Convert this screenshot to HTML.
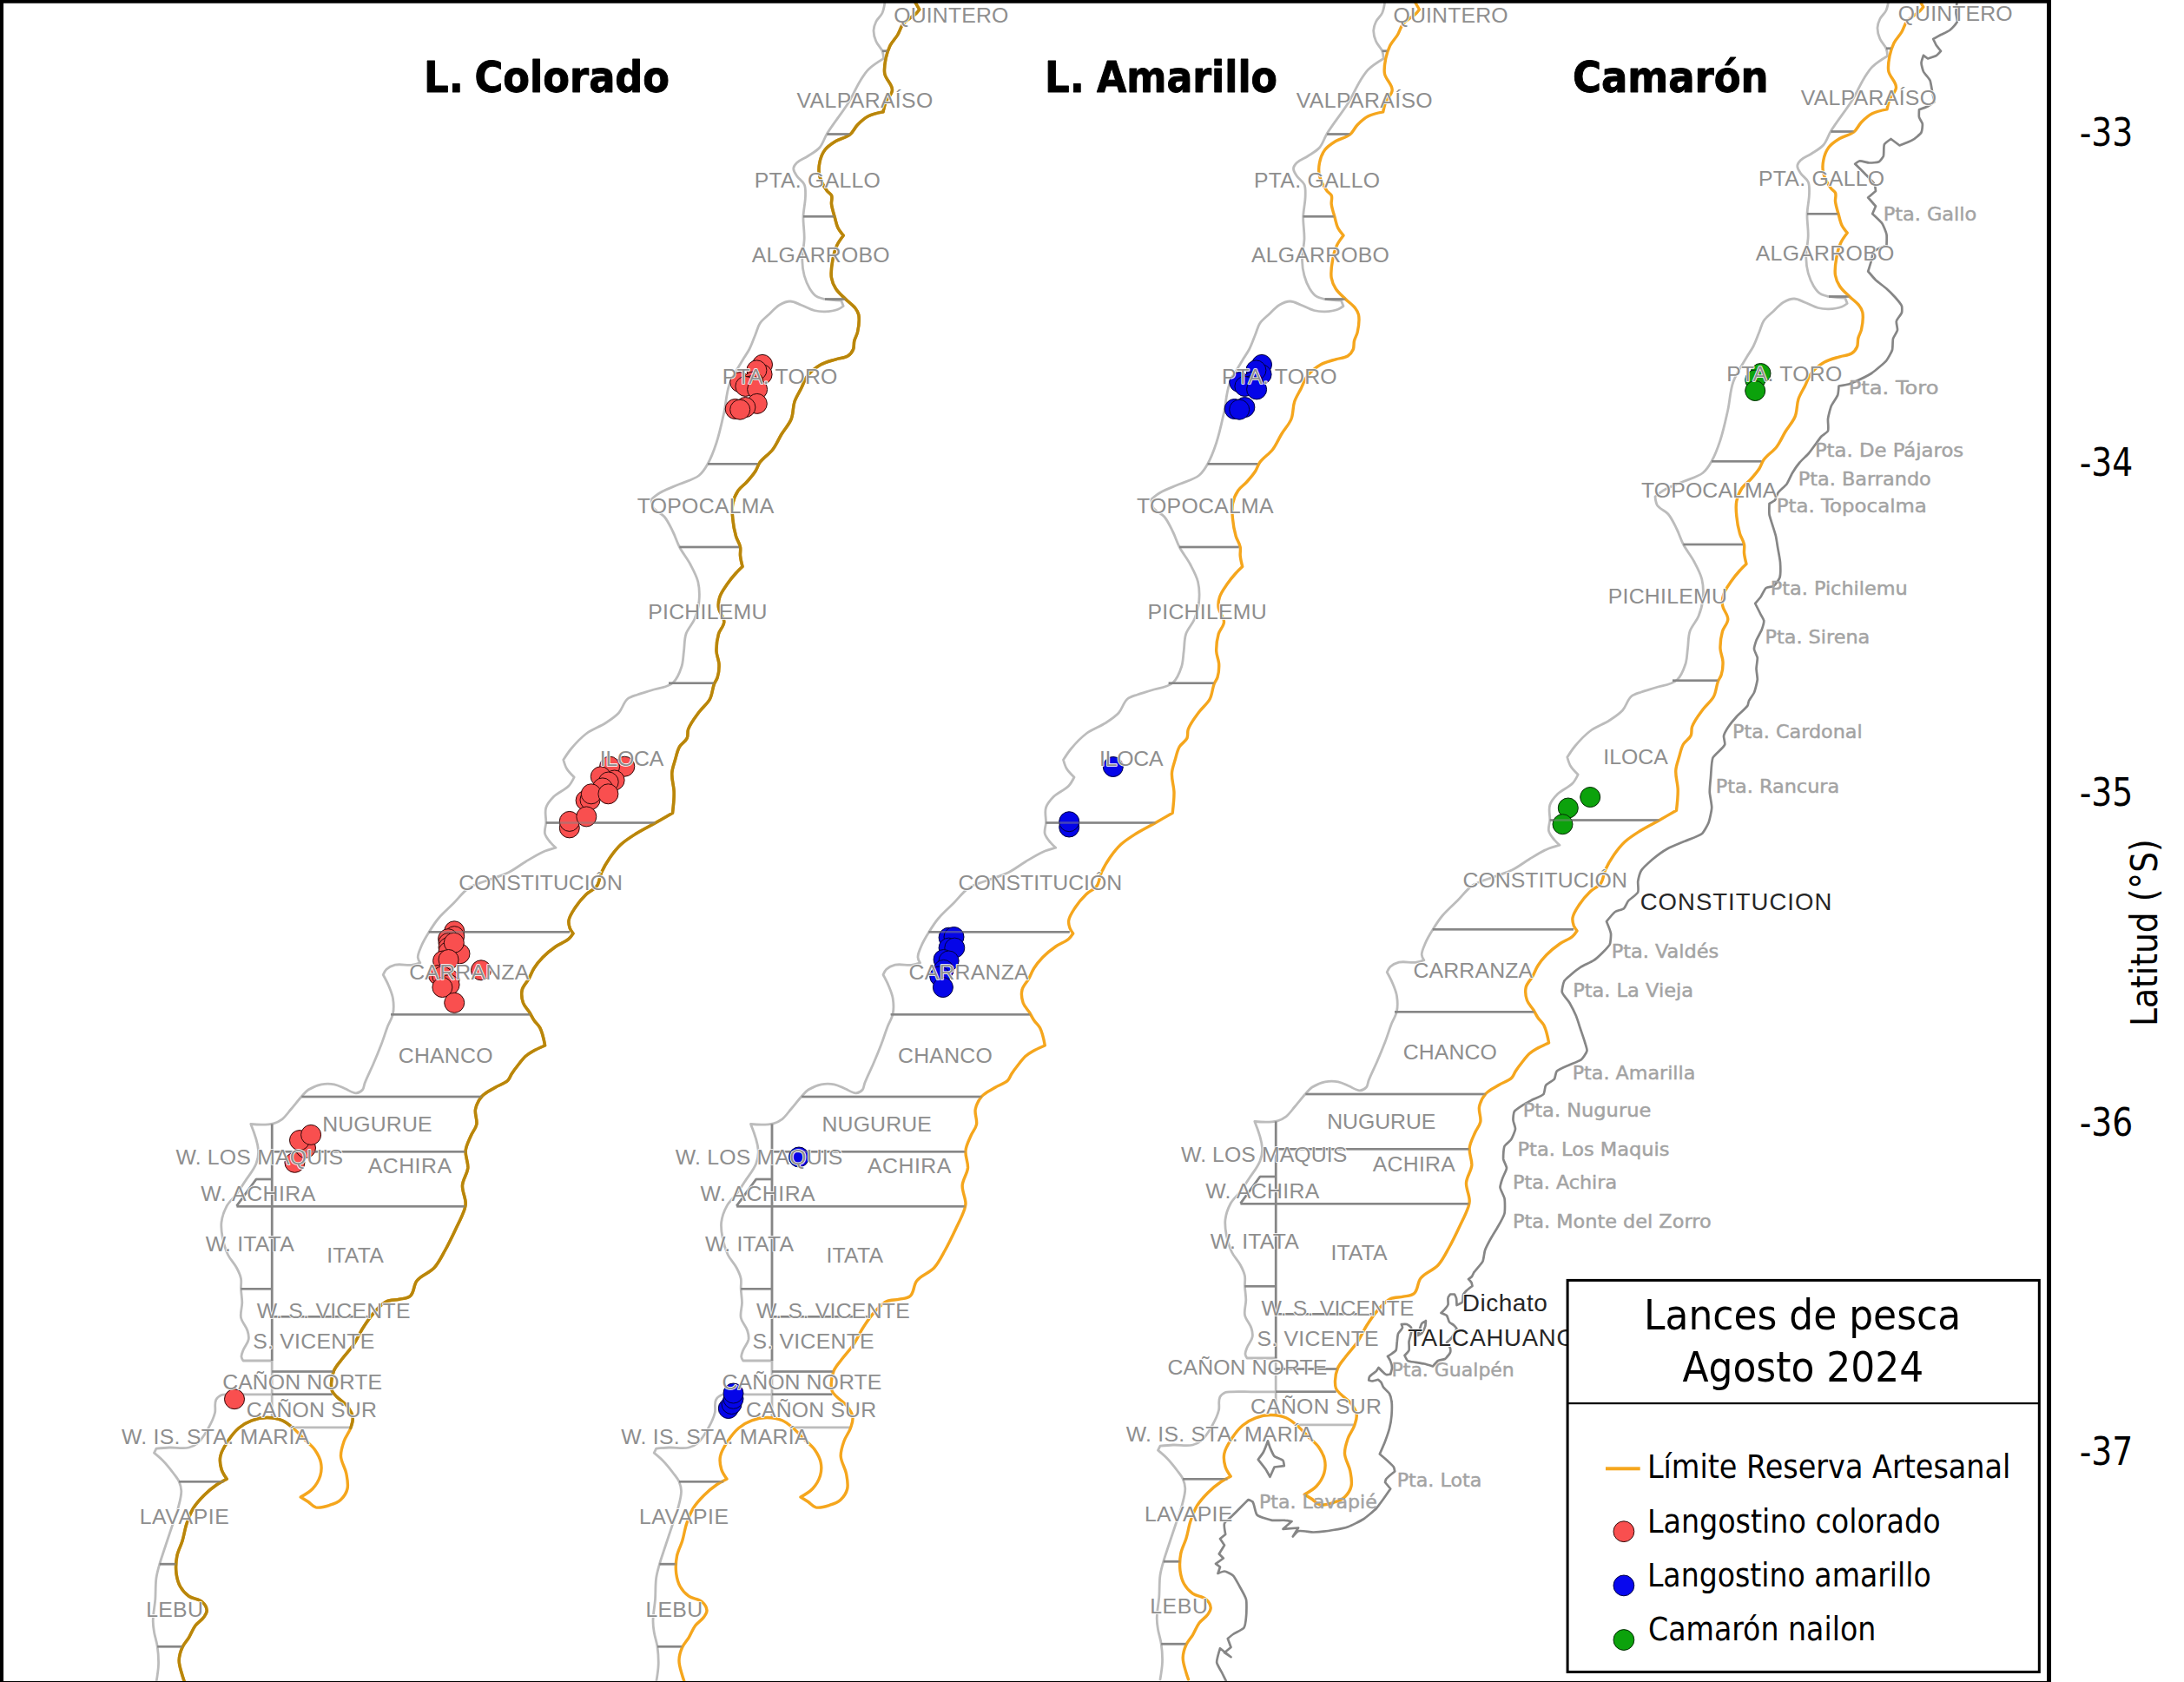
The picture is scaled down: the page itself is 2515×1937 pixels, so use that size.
<!DOCTYPE html>
<html lang="es"><head><meta charset="utf-8"><title>Lances de pesca Agosto 2024</title>
<style>html,body{margin:0;padding:0;background:#fff}svg{display:block}.ln{fill:none;stroke-linejoin:round;stroke-linecap:round}.lab{font-family:"Liberation Sans",sans-serif;font-size:24.8px;fill:#8e8e8e;stroke:#fff;stroke-width:1.6px;paint-order:stroke;stroke-linejoin:round}.plc{font-family:"DejaVu Sans",sans-serif;font-size:22px;fill:#a3a3a3;stroke:#a3a3a3;stroke-width:0.45px;stroke-linejoin:round}.city{font-family:"Liberation Sans",sans-serif;fill:#262626;stroke:#fff;stroke-width:2px;paint-order:stroke;stroke-linejoin:round}.tah{font-family:"DejaVu Sans Condensed","DejaVu Sans",sans-serif;fill:#000}.ttl{font-family:"DejaVu Sans Condensed","DejaVu Sans",sans-serif;font-weight:bold;font-size:49.5px;fill:#000;stroke:#000;stroke-width:0.9px;stroke-linejoin:round}</style></head><body>
<svg width="2515" height="1937" viewBox="0 0 2515 1937">
<rect width="2515" height="1937" fill="#fff"/>
<g id="p1">
<g class="ln">
<path d="M1053.8 2.5C1053.8 2.5 1058.8 11.0 1058.8 11.0C1058.8 11.0 1056.4 14.1 1055.0 15.5C1050.5 19.9 1044.0 22.6 1040.0 27.5C1037.1 31.1 1036.1 36.0 1033.8 40.0C1031.2 44.3 1027.3 48.0 1025.0 52.5C1022.7 57.2 1021.0 62.4 1020.0 67.5C1018.9 73.2 1017.7 79.3 1018.8 85.0C1020.0 91.7 1027.7 96.9 1027.5 103.8C1027.3 108.9 1021.9 112.7 1020.0 117.5C1018.6 121.1 1017.0 128.8 1017.0 128.8C1017.0 128.8 1005.2 131.0 1000.0 133.8C995.3 136.2 991.2 140.0 987.5 143.8C984.2 147.1 982.4 152.1 978.8 155.0C974.1 158.7 967.5 159.4 962.5 162.5C958.0 165.3 953.2 168.3 950.0 172.5C946.8 176.8 944.8 182.2 943.8 187.5C942.8 192.4 942.6 197.7 943.8 202.5C945.2 208.8 948.7 214.8 952.5 220.0C953.9 221.9 956.6 222.8 957.5 225.0C958.8 228.0 957.1 231.7 957.5 235.0C958.1 240.1 959.9 245.1 961.2 250.0C962.4 254.2 963.1 258.6 965.0 262.5C966.6 265.7 971.2 271.2 971.2 271.2C971.2 271.2 965.6 278.5 963.8 282.5C961.2 288.0 959.8 294.1 958.8 300.0C957.6 306.5 956.5 313.5 957.5 320.0C958.2 324.4 960.1 328.8 962.5 332.5C965.4 337.1 969.9 340.7 973.8 344.5C977.3 348.1 982.0 350.9 985.0 355.0C986.7 357.2 988.2 359.8 988.8 362.5C990.1 369.0 988.9 376.0 987.5 382.5C986.8 385.9 984.6 389.1 983.8 392.5C983.0 395.7 983.8 399.4 982.5 402.5C981.2 405.5 979.0 408.3 976.2 410.0C972.3 412.5 967.0 412.3 962.5 413.8C956.7 415.6 950.3 417.0 945.0 420.0C939.4 423.2 934.0 427.4 930.0 432.5C926.6 436.8 925.0 442.6 922.5 447.5C920.0 452.4 916.8 457.3 915.0 462.5C912.9 468.9 913.7 476.3 911.2 482.5C908.7 488.9 903.6 494.1 900.0 500.0C896.6 505.7 894.0 512.2 890.0 517.5C885.8 523.1 879.1 526.8 875.0 532.5C872.8 535.5 872.0 539.4 870.0 542.5C867.2 546.9 863.5 551.1 860.0 555.0C856.9 558.5 852.6 561.1 850.0 565.0C847.0 569.5 844.8 574.7 843.8 580.0C842.6 585.7 843.2 591.7 843.8 597.5C844.4 604.2 845.6 611.1 847.5 617.5C848.7 621.8 851.7 625.6 852.5 630.0C853.1 633.2 852.2 636.7 852.5 640.0C852.9 644.2 855.0 652.5 855.0 652.5C855.0 652.5 849.8 657.4 847.5 660.0C844.0 663.9 840.5 668.1 837.5 672.5C834.3 677.2 830.5 682.0 828.8 687.5C827.5 691.4 826.9 695.9 827.5 700.0C828.3 705.7 833.9 710.5 833.8 716.2C833.6 721.2 828.9 725.2 827.5 730.0C825.7 736.4 824.8 743.4 825.0 750.0C825.2 755.0 827.8 760.0 828.0 765.0C828.2 770.0 827.7 775.2 826.2 780.0C825.5 782.7 823.5 784.9 822.5 787.5C820.3 793.1 820.3 799.7 817.5 805.0C814.5 810.7 808.8 814.8 805.0 820.0C800.4 826.3 795.1 832.7 792.5 840.0C791.4 843.1 792.6 847.0 791.2 850.0C789.5 854.0 784.7 856.2 782.5 860.0C779.9 864.5 779.0 870.0 777.5 875.0C776.1 879.9 774.1 884.9 773.8 890.0C773.2 897.5 776.1 905.0 776.2 912.5C776.4 920.4 774.5 936.2 774.5 936.2C774.5 936.2 761.5 943.8 755.0 947.5C747.6 951.7 739.7 955.5 732.5 960.0C726.5 963.8 720.2 967.7 715.0 972.5C710.3 976.9 706.2 982.2 702.5 987.5C698.7 993.0 695.2 998.9 692.5 1005.0C690.4 1009.8 690.5 1015.7 687.5 1020.0C684.5 1024.3 678.8 1026.3 675.0 1030.0C670.4 1034.5 666.0 1039.6 662.5 1045.0C659.5 1049.6 655.9 1054.5 655.0 1060.0C654.5 1062.9 655.3 1066.0 656.2 1068.8C657.1 1071.0 660.0 1075.0 660.0 1075.0C660.0 1075.0 657.0 1079.5 655.0 1081.2C650.7 1085.0 644.7 1086.7 640.0 1090.0C634.7 1093.7 629.5 1097.9 625.0 1102.5C621.3 1106.3 617.8 1110.6 615.0 1115.0C612.5 1118.9 611.0 1123.5 608.8 1127.5C606.4 1131.7 602.3 1135.3 601.2 1140.0C600.1 1144.8 600.9 1150.3 602.5 1155.0C604.0 1159.2 607.7 1162.5 610.0 1166.2C611.7 1169.1 613.1 1172.2 615.0 1175.0C617.0 1178.0 620.2 1180.4 621.8 1183.6C625.0 1189.8 627.6 1204.0 627.6 1204.0C627.6 1204.0 617.6 1208.3 613.0 1211.0C610.2 1212.6 607.4 1214.3 605.0 1216.5C602.0 1219.3 599.5 1222.8 597.0 1226.0C594.2 1229.5 591.4 1233.2 589.0 1237.0C587.6 1239.2 586.9 1242.1 585.0 1244.0C581.0 1248.0 574.8 1249.5 570.0 1252.5C564.9 1255.6 558.9 1258.0 555.0 1262.5C551.3 1266.6 548.6 1272.1 547.5 1277.5C546.4 1283.2 549.9 1289.3 548.8 1295.0C547.9 1299.5 544.3 1303.3 542.5 1307.5C540.1 1313.1 536.9 1318.9 536.2 1325.0C535.5 1331.6 539.3 1338.4 538.8 1345.0C538.1 1351.9 532.9 1358.1 532.5 1365.0C532.0 1372.1 536.3 1379.1 536.2 1386.2C536.2 1388.4 535.6 1390.5 535.0 1392.5C532.5 1400.2 528.5 1407.7 525.0 1415.0C521.1 1423.3 517.0 1432.0 512.5 1440.0C508.7 1446.8 505.3 1454.3 500.0 1460.0C494.4 1466.1 485.1 1468.5 480.0 1475.0C476.1 1479.9 477.2 1488.3 472.5 1492.5C469.3 1495.4 464.2 1495.3 460.0 1496.2C455.1 1497.4 449.5 1496.6 445.0 1498.8C439.0 1501.7 434.5 1507.5 430.0 1512.5C425.3 1517.8 421.3 1524.0 417.5 1530.0C413.9 1535.7 411.3 1542.4 407.5 1548.0C403.4 1554.1 397.9 1559.6 393.5 1565.5C390.4 1569.7 386.6 1573.7 384.5 1578.5C382.6 1583.0 381.7 1588.1 381.5 1593.0C381.4 1596.0 381.4 1599.2 382.5 1602.0C383.5 1604.4 385.7 1606.3 387.5 1608.2C391.3 1612.3 396.6 1615.1 400.0 1619.5C402.8 1623.2 405.6 1627.4 406.2 1632.0C406.8 1636.2 405.1 1640.5 403.8 1644.5C402.0 1649.7 398.1 1654.3 396.2 1659.5C394.3 1665.1 392.2 1671.1 392.5 1677.0C392.8 1683.9 397.5 1690.2 398.8 1697.0C399.8 1702.7 401.3 1708.9 400.0 1714.5C398.9 1719.2 396.0 1723.7 392.5 1727.0C389.1 1730.1 384.4 1731.9 380.0 1733.2C374.8 1734.9 369.0 1737.0 363.8 1735.8C360.3 1734.9 357.9 1731.5 355.0 1729.5C352.2 1727.6 346.2 1724.0 346.2 1724.0C346.2 1724.0 356.3 1718.5 360.0 1714.5C363.9 1710.3 367.1 1705.0 368.8 1699.5C370.2 1694.7 370.5 1689.4 369.5 1684.5C368.5 1679.1 365.6 1674.0 362.5 1669.5C359.2 1664.7 354.1 1661.1 350.0 1657.0C345.9 1652.9 342.0 1648.2 337.5 1644.5C333.6 1641.3 329.6 1637.7 325.0 1635.8C319.6 1633.5 313.4 1632.5 307.5 1632.5C301.6 1632.5 295.5 1633.7 290.0 1635.8C284.6 1637.7 279.4 1640.8 275.0 1644.5C270.1 1648.7 266.0 1654.1 262.5 1659.5C259.0 1664.9 255.0 1670.7 253.8 1677.0C252.8 1681.9 253.6 1687.2 255.0 1692.0C256.2 1696.1 261.2 1703.2 261.2 1703.2C261.2 1703.2 253.5 1707.1 250.0 1709.5C244.7 1713.1 239.6 1717.4 235.0 1722.0C230.4 1726.6 225.9 1731.5 222.5 1737.0C219.2 1742.4 217.0 1748.5 215.0 1754.5C212.8 1760.9 212.0 1768.0 210.0 1774.5C208.2 1780.4 204.9 1786.0 203.8 1792.0C202.5 1798.5 202.2 1805.4 203.0 1812.0C203.7 1817.1 205.0 1822.5 207.5 1827.0C209.9 1831.3 213.5 1835.4 217.5 1838.2C221.9 1841.4 228.5 1841.0 232.5 1844.5C235.4 1847.0 238.0 1850.7 238.2 1854.5C238.4 1857.2 236.5 1859.8 235.0 1862.0C232.4 1865.9 227.8 1868.3 225.0 1872.0C221.9 1876.1 220.2 1881.3 217.5 1885.8C215.2 1889.6 211.8 1892.9 210.0 1897.0C207.9 1901.7 206.3 1906.9 206.2 1912.0C206.1 1917.9 208.4 1923.8 210.0 1929.5C210.7 1932.0 212.5 1937.0 212.5 1937.0" stroke="#f5a61d" stroke-width="3.4" />
</g>
<g class="ln">
<path d="M1018.8 3.8C1018.8 3.8 1017.6 11.5 1016.0 15.0C1014.3 18.7 1010.5 21.3 1008.8 25.0C1007.3 28.1 1006.1 31.6 1006.0 35.0C1005.9 39.2 1007.1 43.6 1008.8 47.5C1010.4 51.6 1014.4 54.6 1016.0 58.8C1017.1 61.5 1017.5 67.5 1017.5 67.5C1017.5 67.5 1005.0 75.0 1000.0 80.0C996.4 83.6 993.7 88.2 991.0 92.5C986.0 100.4 982.4 109.5 977.5 117.5C969.9 129.9 960.1 141.4 952.5 153.8C949.3 158.9 947.8 165.4 943.8 170.0C940.1 174.2 934.7 176.9 930.0 180.0C926.0 182.7 920.9 184.1 917.5 187.5C915.8 189.2 913.9 191.4 913.8 193.8C913.5 196.9 915.8 199.8 917.5 202.5C919.8 206.2 924.5 208.5 926.2 212.5C927.9 216.3 927.5 220.9 927.5 225.0C927.5 233.3 925.2 241.7 925.0 250.0C924.8 258.3 926.5 266.7 926.2 275.0C926.0 283.3 923.6 291.7 923.8 300.0C923.9 305.8 924.7 311.9 926.2 317.5C927.7 322.7 929.7 327.9 932.5 332.5C934.5 335.7 936.8 339.1 940.0 341.2C942.9 343.2 946.6 343.8 950.0 344.5C956.1 345.8 968.8 346.2 968.8 346.2C968.8 346.2 971.2 352.5 971.2 352.5C971.2 352.5 967.3 355.4 965.0 356.2C960.3 358.0 955.0 358.6 950.0 358.8C945.9 358.9 941.5 358.5 937.5 357.5C932.3 356.2 927.5 353.1 922.5 351.2C918.4 349.7 914.4 347.0 910.0 347.0C905.6 347.0 901.3 349.0 897.5 351.2C892.7 354.1 889.0 358.7 885.0 362.5C881.6 365.7 877.6 368.6 875.0 372.5C872.6 376.2 871.7 380.9 870.0 385.0C867.7 390.6 865.8 396.6 863.0 402.0C860.7 406.5 857.5 410.6 855.0 415.0C849.8 423.9 843.5 432.8 840.0 442.5C836.3 452.8 836.1 464.3 833.8 475.0C831.2 486.6 828.7 498.7 825.0 510.0C822.3 518.2 819.3 526.7 815.0 534.2C812.3 539.0 809.3 544.1 805.0 547.5C798.6 552.6 789.9 554.2 782.5 557.5C775.1 560.8 767.0 563.4 760.0 567.5C756.4 569.6 750.0 575.0 750.0 575.0C750.0 575.0 750.7 582.1 752.5 585.0C755.4 589.4 761.6 591.0 765.0 595.0C769.3 600.1 772.0 606.5 775.0 612.5C777.8 618.1 779.6 624.4 782.5 630.0C786.1 636.9 791.4 643.1 795.0 650.0C798.4 656.4 802.1 663.0 803.8 670.0C805.5 677.2 805.7 685.1 805.0 692.5C804.4 699.3 802.5 706.2 800.0 712.5C797.5 718.7 792.1 723.7 790.0 730.0C787.9 736.3 788.4 743.4 787.5 750.0C786.7 755.8 786.8 762.0 785.0 767.5C782.8 774.2 780.3 781.7 775.0 786.2C768.4 791.9 758.3 792.3 750.0 795.0C744.7 796.7 739.2 798.1 734.0 800.0C730.1 801.4 725.6 802.3 722.5 805.0C717.8 809.1 716.7 816.4 712.5 821.0C708.3 825.6 702.7 829.1 697.5 832.5C690.4 837.2 681.8 839.9 675.0 845.0C668.5 849.9 662.7 856.2 657.5 862.5C654.3 866.4 648.8 875.0 648.8 875.0C648.8 875.0 650.7 882.0 652.5 885.0C654.7 888.8 661.2 895.0 661.2 895.0C661.2 895.0 657.7 902.2 655.0 905.0C650.1 910.2 642.5 912.5 637.5 917.5C634.0 921.1 630.3 925.2 628.8 930.0C627.0 935.5 629.0 941.7 628.8 947.5C628.5 951.6 626.6 956.0 627.5 960.0C628.4 963.8 631.3 967.0 633.8 970.0C635.6 972.3 640.0 976.2 640.0 976.2C640.0 976.2 629.8 979.1 625.0 981.2C618.1 984.3 611.5 988.6 605.0 992.5C598.3 996.5 592.0 1001.6 585.0 1005.0C578.7 1008.1 571.6 1010.0 565.0 1012.5C556.7 1015.7 547.4 1017.6 540.0 1022.5C533.2 1027.0 528.3 1034.2 522.5 1040.0C516.7 1045.8 510.2 1051.2 505.0 1057.5C500.8 1062.5 497.2 1068.2 493.8 1073.8C490.6 1078.9 487.3 1084.4 485.0 1090.0C483.4 1094.0 481.1 1098.2 481.2 1102.5C481.3 1104.7 483.8 1108.8 483.8 1108.8C483.8 1108.8 478.0 1110.8 475.0 1111.2C468.5 1112.2 461.4 1109.7 455.0 1111.2C451.4 1112.1 447.7 1113.7 445.0 1116.2C443.2 1117.9 441.2 1122.5 441.2 1122.5C441.2 1122.5 445.7 1130.7 447.5 1135.0C449.5 1139.8 451.7 1144.8 452.5 1150.0C453.4 1155.7 453.6 1161.8 452.5 1167.5C451.4 1172.8 448.2 1177.5 446.2 1182.5C443.7 1189.2 441.6 1196.3 439.0 1203.0C436.2 1210.3 433.1 1217.8 430.0 1225.0C426.8 1232.5 422.9 1239.9 420.0 1247.5C419.1 1249.9 419.2 1253.0 417.5 1255.0C415.7 1257.1 412.8 1258.6 410.0 1258.8C405.6 1258.9 401.6 1255.4 397.5 1253.8C393.4 1252.1 389.4 1249.6 385.0 1248.8C380.1 1247.8 374.9 1247.8 370.0 1248.8C364.7 1249.8 359.5 1252.0 355.0 1255.0C352.1 1256.9 349.9 1259.9 347.5 1262.5C343.2 1267.3 339.2 1272.6 335.0 1277.5C331.8 1281.3 328.9 1285.7 325.0 1288.8C322.1 1291.0 318.6 1292.9 315.0 1293.8C306.6 1295.9 288.8 1294.5 288.8 1294.5C288.8 1294.5 296.9 1314.5 297.5 1325.0C297.8 1330.0 296.8 1335.3 295.0 1340.0C292.2 1347.3 286.7 1353.5 282.5 1360.0C279.3 1365.0 276.0 1370.2 272.5 1375.0C269.0 1379.7 264.1 1383.6 261.2 1388.8C258.1 1394.5 255.8 1401.0 255.0 1407.5C254.3 1413.2 255.2 1419.3 256.2 1425.0C257.5 1431.8 259.5 1438.8 262.5 1445.0C265.1 1450.4 269.7 1454.7 272.5 1460.0C274.6 1463.9 276.7 1468.1 277.5 1472.5C278.2 1476.3 277.3 1480.4 277.5 1484.2C277.7 1489.5 278.7 1494.8 278.8 1500.0C278.8 1505.8 276.4 1511.8 277.5 1517.5C278.6 1522.9 283.4 1527.2 285.0 1532.5C286.0 1535.7 286.8 1539.2 286.2 1542.5C285.5 1547.0 281.6 1550.7 280.0 1555.0C279.1 1557.4 277.8 1559.9 278.0 1562.5C278.1 1564.1 280.0 1567.0 280.0 1567.0C280.0 1567.0 313.2 1567.0 313.2 1567.0C313.2 1567.0 313.2 1632.5 313.2 1632.5" stroke="#bcbcbc" stroke-width="2.8" />
<path d="M313.2 1605.8C313.2 1605.8 294.3 1605.8 285.0 1605.8C277.4 1605.8 269.6 1605.3 262.0 1605.8C259.7 1605.9 257.1 1605.6 255.0 1606.5C252.5 1607.6 250.0 1609.5 248.8 1612.0C246.5 1616.4 248.7 1622.2 247.5 1627.0C246.0 1633.1 243.1 1639.0 240.0 1644.5C236.5 1650.7 232.9 1657.4 227.5 1662.0C224.7 1664.4 221.1 1666.2 217.5 1667.0C210.3 1668.7 202.4 1666.7 195.0 1667.0C190.0 1667.2 180.0 1668.2 180.0 1668.2C180.0 1668.2 177.5 1673.2 177.5 1673.2C177.5 1673.2 184.4 1678.9 187.5 1682.0C192.0 1686.6 196.1 1691.8 200.0 1697.0C202.2 1699.9 204.8 1702.9 206.2 1706.2C207.7 1709.6 208.7 1713.4 208.8 1717.0C208.9 1723.7 206.7 1730.5 205.0 1737.0C203.0 1744.6 200.0 1752.1 197.5 1759.5C195.0 1766.9 192.4 1774.6 190.0 1782.0C187.9 1788.3 185.6 1794.8 183.8 1801.2C182.3 1806.4 180.8 1811.7 180.0 1817.0C178.8 1825.2 179.4 1833.8 178.8 1842.0C178.1 1850.3 176.2 1858.7 176.2 1867.0C176.2 1871.1 176.8 1875.4 177.5 1879.5C178.4 1885.1 180.5 1890.6 181.2 1896.2C182.2 1903.0 182.7 1910.1 182.5 1917.0C182.3 1923.6 180.0 1937.0 180.0 1937.0" stroke="#bcbcbc" stroke-width="2.8" />
<polyline points="337.5,1643.8 403.8,1643.8" stroke="#bcbcbc" stroke-width="2.8" />
<polyline points="1016.0,58.8 1022.0,58.8" stroke="#868686" stroke-width="2.6" stroke-linecap="butt"/>
<polyline points="952.5,154.5 978.8,154.5" stroke="#868686" stroke-width="2.6" stroke-linecap="butt"/>
<polyline points="925.0,249.2 961.0,249.2" stroke="#868686" stroke-width="2.6" stroke-linecap="butt"/>
<polyline points="950.0,344.5 973.8,344.5" stroke="#868686" stroke-width="2.6" stroke-linecap="butt"/>
<polyline points="815.0,534.2 872.5,534.2" stroke="#868686" stroke-width="2.6" stroke-linecap="butt"/>
<polyline points="782.5,630.0 851.0,630.0" stroke="#868686" stroke-width="2.6" stroke-linecap="butt"/>
<polyline points="770.0,786.8 822.5,786.8" stroke="#868686" stroke-width="2.6" stroke-linecap="butt"/>
<polyline points="628.8,947.5 755.0,947.5" stroke="#868686" stroke-width="2.6" stroke-linecap="butt"/>
<polyline points="493.8,1073.2 656.0,1073.2" stroke="#868686" stroke-width="2.6" stroke-linecap="butt"/>
<polyline points="450.0,1168.2 611.0,1168.2" stroke="#868686" stroke-width="2.6" stroke-linecap="butt"/>
<polyline points="347.5,1263.0 555.0,1263.0" stroke="#868686" stroke-width="2.6" stroke-linecap="butt"/>
<polyline points="313.2,1326.2 536.0,1326.2" stroke="#868686" stroke-width="2.6" stroke-linecap="butt"/>
<polyline points="272.5,1389.2 536.0,1389.2" stroke="#868686" stroke-width="2.6" stroke-linecap="butt"/>
<polyline points="277.5,1484.2 313.2,1484.2" stroke="#868686" stroke-width="2.6" stroke-linecap="butt"/>
<polyline points="313.2,1516.2 425.0,1516.2" stroke="#868686" stroke-width="2.6" stroke-linecap="butt"/>
<polyline points="313.2,1579.5 384.0,1579.5" stroke="#868686" stroke-width="2.6" stroke-linecap="butt"/>
<polyline points="313.2,1605.8 382.5,1605.8" stroke="#868686" stroke-width="2.6" stroke-linecap="butt"/>
<polyline points="206.2,1706.2 257.5,1706.2" stroke="#868686" stroke-width="2.6" stroke-linecap="butt"/>
<polyline points="183.8,1801.2 203.0,1801.2" stroke="#868686" stroke-width="2.6" stroke-linecap="butt"/>
<polyline points="181.2,1896.2 210.0,1896.2" stroke="#868686" stroke-width="2.6" stroke-linecap="butt"/>
<polyline points="313.2,1294.5 313.2,1567.0" stroke="#868686" stroke-width="2.6" stroke-linecap="butt"/>
<polyline points="313.2,1358.0 295.0,1358.0 272.5,1388.8" stroke="#868686" stroke-width="2.6" stroke-linecap="butt"/>
</g>
<g class="ln">
<path d="M1053.8 2.5C1053.8 2.5 1058.8 11.0 1058.8 11.0C1058.8 11.0 1056.4 14.1 1055.0 15.5C1050.5 19.9 1044.0 22.6 1040.0 27.5C1037.1 31.1 1036.1 36.0 1033.8 40.0C1031.2 44.3 1027.3 48.0 1025.0 52.5C1022.7 57.2 1021.0 62.4 1020.0 67.5C1018.9 73.2 1017.7 79.3 1018.8 85.0C1020.0 91.7 1027.7 96.9 1027.5 103.8C1027.3 108.9 1021.9 112.7 1020.0 117.5C1018.6 121.1 1017.0 128.8 1017.0 128.8C1017.0 128.8 1005.2 131.0 1000.0 133.8C995.3 136.2 991.2 140.0 987.5 143.8C984.2 147.1 982.4 152.1 978.8 155.0C974.1 158.7 967.5 159.4 962.5 162.5C958.0 165.3 953.2 168.3 950.0 172.5C946.8 176.8 944.8 182.2 943.8 187.5C942.8 192.4 942.6 197.7 943.8 202.5C945.2 208.8 948.7 214.8 952.5 220.0C953.9 221.9 956.6 222.8 957.5 225.0C958.8 228.0 957.1 231.7 957.5 235.0C958.1 240.1 959.9 245.1 961.2 250.0C962.4 254.2 963.1 258.6 965.0 262.5C966.6 265.7 971.2 271.2 971.2 271.2C971.2 271.2 965.6 278.5 963.8 282.5C961.2 288.0 959.8 294.1 958.8 300.0C957.6 306.5 956.5 313.5 957.5 320.0C958.2 324.4 960.1 328.8 962.5 332.5C965.4 337.1 969.9 340.7 973.8 344.5C977.3 348.1 982.0 350.9 985.0 355.0C986.7 357.2 988.2 359.8 988.8 362.5C990.1 369.0 988.9 376.0 987.5 382.5C986.8 385.9 984.6 389.1 983.8 392.5C983.0 395.7 983.8 399.4 982.5 402.5C981.2 405.5 979.0 408.3 976.2 410.0C972.3 412.5 967.0 412.3 962.5 413.8C956.7 415.6 950.3 417.0 945.0 420.0C939.4 423.2 934.0 427.4 930.0 432.5C926.6 436.8 925.0 442.6 922.5 447.5C920.0 452.4 916.8 457.3 915.0 462.5C912.9 468.9 913.7 476.3 911.2 482.5C908.7 488.9 903.6 494.1 900.0 500.0C896.6 505.7 894.0 512.2 890.0 517.5C885.8 523.1 879.1 526.8 875.0 532.5C872.8 535.5 872.0 539.4 870.0 542.5C867.2 546.9 863.5 551.1 860.0 555.0C856.9 558.5 852.6 561.1 850.0 565.0C847.0 569.5 844.8 574.7 843.8 580.0C842.6 585.7 843.2 591.7 843.8 597.5C844.4 604.2 845.6 611.1 847.5 617.5C848.7 621.8 851.7 625.6 852.5 630.0C853.1 633.2 852.2 636.7 852.5 640.0C852.9 644.2 855.0 652.5 855.0 652.5C855.0 652.5 849.8 657.4 847.5 660.0C844.0 663.9 840.5 668.1 837.5 672.5C834.3 677.2 830.5 682.0 828.8 687.5C827.5 691.4 826.9 695.9 827.5 700.0C828.3 705.7 833.9 710.5 833.8 716.2C833.6 721.2 828.9 725.2 827.5 730.0C825.7 736.4 824.8 743.4 825.0 750.0C825.2 755.0 827.8 760.0 828.0 765.0C828.2 770.0 827.7 775.2 826.2 780.0C825.5 782.7 823.5 784.9 822.5 787.5C820.3 793.1 820.3 799.7 817.5 805.0C814.5 810.7 808.8 814.8 805.0 820.0C800.4 826.3 795.1 832.7 792.5 840.0C791.4 843.1 792.6 847.0 791.2 850.0C789.5 854.0 784.7 856.2 782.5 860.0C779.9 864.5 779.0 870.0 777.5 875.0C776.1 879.9 774.1 884.9 773.8 890.0C773.2 897.5 776.1 905.0 776.2 912.5C776.4 920.4 774.5 936.2 774.5 936.2C774.5 936.2 761.5 943.8 755.0 947.5C747.6 951.7 739.7 955.5 732.5 960.0C726.5 963.8 720.2 967.7 715.0 972.5C710.3 976.9 706.2 982.2 702.5 987.5C698.7 993.0 695.2 998.9 692.5 1005.0C690.4 1009.8 690.5 1015.7 687.5 1020.0C684.5 1024.3 678.8 1026.3 675.0 1030.0C670.4 1034.5 666.0 1039.6 662.5 1045.0C659.5 1049.6 655.9 1054.5 655.0 1060.0C654.5 1062.9 655.3 1066.0 656.2 1068.8C657.1 1071.0 660.0 1075.0 660.0 1075.0C660.0 1075.0 657.0 1079.5 655.0 1081.2C650.7 1085.0 644.7 1086.7 640.0 1090.0C634.7 1093.7 629.5 1097.9 625.0 1102.5C621.3 1106.3 617.8 1110.6 615.0 1115.0C612.5 1118.9 611.0 1123.5 608.8 1127.5C606.4 1131.7 602.3 1135.3 601.2 1140.0C600.1 1144.8 600.9 1150.3 602.5 1155.0C604.0 1159.2 607.7 1162.5 610.0 1166.2C611.7 1169.1 613.1 1172.2 615.0 1175.0C617.0 1178.0 620.2 1180.4 621.8 1183.6C625.0 1189.8 627.6 1204.0 627.6 1204.0C627.6 1204.0 617.6 1208.3 613.0 1211.0C610.2 1212.6 607.4 1214.3 605.0 1216.5C602.0 1219.3 599.5 1222.8 597.0 1226.0C594.2 1229.5 591.4 1233.2 589.0 1237.0C587.6 1239.2 586.9 1242.1 585.0 1244.0C581.0 1248.0 574.8 1249.5 570.0 1252.5C564.9 1255.6 558.9 1258.0 555.0 1262.5C551.3 1266.6 548.6 1272.1 547.5 1277.5C546.4 1283.2 549.9 1289.3 548.8 1295.0C547.9 1299.5 544.3 1303.3 542.5 1307.5C540.1 1313.1 536.9 1318.9 536.2 1325.0C535.5 1331.6 539.3 1338.4 538.8 1345.0C538.1 1351.9 532.9 1358.1 532.5 1365.0C532.0 1372.1 536.3 1379.1 536.2 1386.2C536.2 1388.4 535.6 1390.5 535.0 1392.5C532.5 1400.2 528.5 1407.7 525.0 1415.0C521.1 1423.3 517.0 1432.0 512.5 1440.0C508.7 1446.8 505.3 1454.3 500.0 1460.0C494.4 1466.1 485.1 1468.5 480.0 1475.0C476.1 1479.9 477.2 1488.3 472.5 1492.5C469.3 1495.4 464.2 1495.3 460.0 1496.2C455.1 1497.4 449.5 1496.6 445.0 1498.8C439.0 1501.7 434.5 1507.5 430.0 1512.5C425.3 1517.8 421.3 1524.0 417.5 1530.0C413.9 1535.7 411.3 1542.4 407.5 1548.0C403.4 1554.1 397.9 1559.6 393.5 1565.5C390.4 1569.7 386.6 1573.7 384.5 1578.5C382.6 1583.0 381.7 1588.1 381.5 1593.0C381.4 1596.0 381.4 1599.2 382.5 1602.0C383.5 1604.4 385.7 1606.3 387.5 1608.2C391.3 1612.3 396.6 1615.1 400.0 1619.5C402.8 1623.2 405.6 1627.4 406.2 1632.0C406.8 1636.2 403.8 1644.5 403.8 1644.5" stroke="#b8860b" stroke-width="3.5" />
<path d="M337.5 1644.5C337.5 1644.5 329.6 1637.7 325.0 1635.8C319.6 1633.5 313.4 1632.5 307.5 1632.5C301.6 1632.5 295.5 1633.7 290.0 1635.8C284.6 1637.7 279.4 1640.8 275.0 1644.5C270.1 1648.7 266.0 1654.1 262.5 1659.5C259.0 1664.9 255.0 1670.7 253.8 1677.0C252.8 1681.9 253.6 1687.2 255.0 1692.0C256.2 1696.1 261.2 1703.2 261.2 1703.2C261.2 1703.2 253.5 1707.1 250.0 1709.5C244.7 1713.1 239.6 1717.4 235.0 1722.0C230.4 1726.6 225.9 1731.5 222.5 1737.0C219.2 1742.4 217.0 1748.5 215.0 1754.5C212.8 1760.9 212.0 1768.0 210.0 1774.5C208.2 1780.4 204.9 1786.0 203.8 1792.0C202.5 1798.5 202.2 1805.4 203.0 1812.0C203.7 1817.1 205.0 1822.5 207.5 1827.0C209.9 1831.3 213.5 1835.4 217.5 1838.2C221.9 1841.4 228.5 1841.0 232.5 1844.5C235.4 1847.0 238.0 1850.7 238.2 1854.5C238.4 1857.2 236.5 1859.8 235.0 1862.0C232.4 1865.9 227.8 1868.3 225.0 1872.0C221.9 1876.1 220.2 1881.3 217.5 1885.8C215.2 1889.6 211.8 1892.9 210.0 1897.0C207.9 1901.7 206.3 1906.9 206.2 1912.0C206.1 1917.9 208.4 1923.8 210.0 1929.5C210.7 1932.0 212.5 1937.0 212.5 1937.0" stroke="#b8860b" stroke-width="3.5" />
</g>
</g>
<g id="p2">
<g class="ln">
<path d="M1594.5 3.8C1594.5 3.8 1593.3 11.5 1591.7 15.0C1590.0 18.7 1586.2 21.3 1584.5 25.0C1583.0 28.1 1581.8 31.6 1581.7 35.0C1581.6 39.2 1582.8 43.6 1584.5 47.5C1586.1 51.6 1590.1 54.6 1591.7 58.8C1592.8 61.5 1593.2 67.5 1593.2 67.5C1593.2 67.5 1580.7 75.0 1575.7 80.0C1572.1 83.6 1569.4 88.2 1566.7 92.5C1561.7 100.4 1558.1 109.5 1553.2 117.5C1545.6 129.9 1535.8 141.4 1528.2 153.8C1525.0 158.9 1523.5 165.4 1519.5 170.0C1515.8 174.2 1510.4 176.9 1505.7 180.0C1501.7 182.7 1496.6 184.1 1493.2 187.5C1491.5 189.2 1489.6 191.4 1489.5 193.8C1489.2 196.9 1491.5 199.8 1493.2 202.5C1495.5 206.2 1500.2 208.5 1502.0 212.5C1503.6 216.3 1503.2 220.9 1503.2 225.0C1503.2 233.3 1500.9 241.7 1500.7 250.0C1500.5 258.3 1502.2 266.7 1502.0 275.0C1501.7 283.3 1499.3 291.7 1499.5 300.0C1499.6 305.8 1500.4 311.9 1502.0 317.5C1503.4 322.7 1505.4 327.9 1508.2 332.5C1510.2 335.7 1512.5 339.1 1515.7 341.2C1518.6 343.2 1522.3 343.8 1525.7 344.5C1531.8 345.8 1544.5 346.2 1544.5 346.2C1544.5 346.2 1547.0 352.5 1547.0 352.5C1547.0 352.5 1543.0 355.4 1540.7 356.2C1536.0 358.0 1530.7 358.6 1525.7 358.8C1521.6 358.9 1517.2 358.5 1513.2 357.5C1508.0 356.2 1503.2 353.1 1498.2 351.2C1494.1 349.7 1490.1 347.0 1485.7 347.0C1481.3 347.0 1477.0 349.0 1473.2 351.2C1468.4 354.1 1464.7 358.7 1460.7 362.5C1457.3 365.7 1453.3 368.6 1450.7 372.5C1448.3 376.2 1447.4 380.9 1445.7 385.0C1443.4 390.6 1441.5 396.6 1438.7 402.0C1436.4 406.5 1433.2 410.6 1430.7 415.0C1425.5 423.9 1419.2 432.8 1415.7 442.5C1412.0 452.8 1411.8 464.3 1409.5 475.0C1406.9 486.6 1404.4 498.7 1400.7 510.0C1398.0 518.2 1395.0 526.7 1390.7 534.2C1388.0 539.0 1385.0 544.1 1380.7 547.5C1374.3 552.6 1365.6 554.2 1358.2 557.5C1350.8 560.8 1342.7 563.4 1335.7 567.5C1332.1 569.6 1325.7 575.0 1325.7 575.0C1325.7 575.0 1326.4 582.1 1328.2 585.0C1331.1 589.4 1337.3 591.0 1340.7 595.0C1345.0 600.1 1347.7 606.5 1350.7 612.5C1353.5 618.1 1355.3 624.4 1358.2 630.0C1361.8 636.9 1367.1 643.1 1370.7 650.0C1374.1 656.4 1377.8 663.0 1379.5 670.0C1381.2 677.2 1381.4 685.1 1380.7 692.5C1380.1 699.3 1378.2 706.2 1375.7 712.5C1373.2 718.7 1367.8 723.7 1365.7 730.0C1363.6 736.3 1364.1 743.4 1363.2 750.0C1362.4 755.8 1362.5 762.0 1360.7 767.5C1358.5 774.2 1356.0 781.7 1350.7 786.2C1344.1 791.9 1334.0 792.3 1325.7 795.0C1320.4 796.7 1314.9 798.1 1309.7 800.0C1305.8 801.4 1301.3 802.3 1298.2 805.0C1293.5 809.1 1292.4 816.4 1288.2 821.0C1284.0 825.6 1278.4 829.1 1273.2 832.5C1266.1 837.2 1257.5 839.9 1250.7 845.0C1244.2 849.9 1238.4 856.2 1233.2 862.5C1230.0 866.4 1224.5 875.0 1224.5 875.0C1224.5 875.0 1226.4 882.0 1228.2 885.0C1230.4 888.8 1237.0 895.0 1237.0 895.0C1237.0 895.0 1233.4 902.2 1230.7 905.0C1225.8 910.2 1218.2 912.5 1213.2 917.5C1209.7 921.1 1206.0 925.2 1204.5 930.0C1202.7 935.5 1204.7 941.7 1204.5 947.5C1204.2 951.6 1202.3 956.0 1203.2 960.0C1204.1 963.8 1207.0 967.0 1209.5 970.0C1211.3 972.3 1215.7 976.2 1215.7 976.2C1215.7 976.2 1205.5 979.1 1200.7 981.2C1193.8 984.3 1187.2 988.6 1180.7 992.5C1174.0 996.5 1167.7 1001.6 1160.7 1005.0C1154.4 1008.1 1147.3 1010.0 1140.7 1012.5C1132.4 1015.7 1123.1 1017.6 1115.7 1022.5C1108.9 1027.0 1104.0 1034.2 1098.2 1040.0C1092.4 1045.8 1085.9 1051.2 1080.7 1057.5C1076.5 1062.5 1072.9 1068.2 1069.5 1073.8C1066.3 1078.9 1063.0 1084.4 1060.7 1090.0C1059.1 1094.0 1056.8 1098.2 1057.0 1102.5C1057.0 1104.7 1059.5 1108.8 1059.5 1108.8C1059.5 1108.8 1053.7 1110.8 1050.7 1111.2C1044.2 1112.2 1037.1 1109.7 1030.7 1111.2C1027.1 1112.1 1023.4 1113.7 1020.7 1116.2C1018.9 1117.9 1017.0 1122.5 1017.0 1122.5C1017.0 1122.5 1021.4 1130.7 1023.2 1135.0C1025.2 1139.8 1027.4 1144.8 1028.2 1150.0C1029.1 1155.7 1029.3 1161.8 1028.2 1167.5C1027.1 1172.8 1023.9 1177.5 1022.0 1182.5C1019.4 1189.2 1017.3 1196.3 1014.7 1203.0C1011.9 1210.3 1008.8 1217.8 1005.7 1225.0C1002.5 1232.5 998.6 1239.9 995.7 1247.5C994.8 1249.9 994.9 1253.0 993.2 1255.0C991.4 1257.1 988.5 1258.6 985.7 1258.8C981.3 1258.9 977.3 1255.4 973.2 1253.8C969.1 1252.1 965.1 1249.6 960.7 1248.8C955.8 1247.8 950.6 1247.8 945.7 1248.8C940.4 1249.8 935.2 1252.0 930.7 1255.0C927.8 1256.9 925.6 1259.9 923.2 1262.5C918.9 1267.3 914.9 1272.6 910.7 1277.5C907.5 1281.3 904.6 1285.7 900.7 1288.8C897.8 1291.0 894.3 1292.9 890.7 1293.8C882.3 1295.9 864.5 1294.5 864.5 1294.5C864.5 1294.5 872.6 1314.5 873.2 1325.0C873.5 1330.0 872.5 1335.3 870.7 1340.0C867.9 1347.3 862.4 1353.5 858.2 1360.0C855.0 1365.0 851.7 1370.2 848.2 1375.0C844.7 1379.7 839.8 1383.6 837.0 1388.8C833.8 1394.5 831.5 1401.0 830.7 1407.5C830.0 1413.2 830.9 1419.3 832.0 1425.0C833.2 1431.8 835.2 1438.8 838.2 1445.0C840.8 1450.4 845.4 1454.7 848.2 1460.0C850.3 1463.9 852.4 1468.1 853.2 1472.5C853.9 1476.3 853.0 1480.4 853.2 1484.2C853.4 1489.5 854.4 1494.8 854.5 1500.0C854.5 1505.8 852.1 1511.8 853.2 1517.5C854.3 1522.9 859.1 1527.2 860.7 1532.5C861.7 1535.7 862.5 1539.2 862.0 1542.5C861.2 1547.0 857.3 1550.7 855.7 1555.0C854.8 1557.4 853.5 1559.9 853.7 1562.5C853.8 1564.1 855.7 1567.0 855.7 1567.0C855.7 1567.0 889.0 1567.0 889.0 1567.0C889.0 1567.0 889.0 1632.5 889.0 1632.5" stroke="#bcbcbc" stroke-width="2.8" />
<path d="M889.0 1605.8C889.0 1605.8 870.0 1605.8 860.7 1605.8C853.1 1605.8 845.3 1605.3 837.7 1605.8C835.4 1605.9 832.8 1605.6 830.7 1606.5C828.2 1607.6 825.7 1609.5 824.5 1612.0C822.2 1616.4 824.4 1622.2 823.2 1627.0C821.7 1633.1 818.8 1639.0 815.7 1644.5C812.2 1650.7 808.6 1657.4 803.2 1662.0C800.4 1664.4 796.8 1666.2 793.2 1667.0C786.0 1668.7 778.1 1666.7 770.7 1667.0C765.7 1667.2 755.7 1668.2 755.7 1668.2C755.7 1668.2 753.2 1673.2 753.2 1673.2C753.2 1673.2 760.1 1678.9 763.2 1682.0C767.7 1686.6 771.8 1691.8 775.7 1697.0C777.9 1699.9 780.5 1702.9 782.0 1706.2C783.4 1709.6 784.4 1713.4 784.5 1717.0C784.6 1723.7 782.4 1730.5 780.7 1737.0C778.7 1744.6 775.7 1752.1 773.2 1759.5C770.7 1766.9 768.1 1774.6 765.7 1782.0C763.6 1788.3 761.3 1794.8 759.5 1801.2C758.0 1806.4 756.5 1811.7 755.7 1817.0C754.5 1825.2 755.1 1833.8 754.5 1842.0C753.8 1850.3 752.0 1858.7 752.0 1867.0C752.0 1871.1 752.5 1875.4 753.2 1879.5C754.1 1885.1 756.2 1890.6 757.0 1896.2C757.9 1903.0 758.4 1910.1 758.2 1917.0C758.0 1923.6 755.7 1937.0 755.7 1937.0" stroke="#bcbcbc" stroke-width="2.8" />
<polyline points="913.2,1643.8 979.5,1643.8" stroke="#bcbcbc" stroke-width="2.8" />
<polyline points="1591.7,58.8 1597.7,58.8" stroke="#868686" stroke-width="2.6" stroke-linecap="butt"/>
<polyline points="1528.2,154.5 1554.5,154.5" stroke="#868686" stroke-width="2.6" stroke-linecap="butt"/>
<polyline points="1500.7,249.2 1536.7,249.2" stroke="#868686" stroke-width="2.6" stroke-linecap="butt"/>
<polyline points="1525.7,344.5 1549.5,344.5" stroke="#868686" stroke-width="2.6" stroke-linecap="butt"/>
<polyline points="1390.7,534.2 1448.2,534.2" stroke="#868686" stroke-width="2.6" stroke-linecap="butt"/>
<polyline points="1358.2,630.0 1426.7,630.0" stroke="#868686" stroke-width="2.6" stroke-linecap="butt"/>
<polyline points="1345.7,786.8 1398.2,786.8" stroke="#868686" stroke-width="2.6" stroke-linecap="butt"/>
<polyline points="1204.5,947.5 1330.7,947.5" stroke="#868686" stroke-width="2.6" stroke-linecap="butt"/>
<polyline points="1069.5,1073.2 1231.7,1073.2" stroke="#868686" stroke-width="2.6" stroke-linecap="butt"/>
<polyline points="1025.7,1168.2 1186.7,1168.2" stroke="#868686" stroke-width="2.6" stroke-linecap="butt"/>
<polyline points="923.2,1263.0 1130.7,1263.0" stroke="#868686" stroke-width="2.6" stroke-linecap="butt"/>
<polyline points="889.0,1326.2 1111.7,1326.2" stroke="#868686" stroke-width="2.6" stroke-linecap="butt"/>
<polyline points="848.2,1389.2 1111.7,1389.2" stroke="#868686" stroke-width="2.6" stroke-linecap="butt"/>
<polyline points="853.2,1484.2 889.0,1484.2" stroke="#868686" stroke-width="2.6" stroke-linecap="butt"/>
<polyline points="889.0,1516.2 1000.7,1516.2" stroke="#868686" stroke-width="2.6" stroke-linecap="butt"/>
<polyline points="889.0,1579.5 959.7,1579.5" stroke="#868686" stroke-width="2.6" stroke-linecap="butt"/>
<polyline points="889.0,1605.8 958.2,1605.8" stroke="#868686" stroke-width="2.6" stroke-linecap="butt"/>
<polyline points="782.0,1706.2 833.2,1706.2" stroke="#868686" stroke-width="2.6" stroke-linecap="butt"/>
<polyline points="759.5,1801.2 778.7,1801.2" stroke="#868686" stroke-width="2.6" stroke-linecap="butt"/>
<polyline points="757.0,1896.2 785.7,1896.2" stroke="#868686" stroke-width="2.6" stroke-linecap="butt"/>
<polyline points="889.0,1294.5 889.0,1567.0" stroke="#868686" stroke-width="2.6" stroke-linecap="butt"/>
<polyline points="889.0,1358.0 870.7,1358.0 848.2,1388.8" stroke="#868686" stroke-width="2.6" stroke-linecap="butt"/>
</g>
<g class="ln"><path d="M1629.5 2.5C1629.5 2.5 1634.5 11.0 1634.5 11.0C1634.5 11.0 1632.1 14.1 1630.7 15.5C1626.2 19.9 1619.7 22.6 1615.7 27.5C1612.8 31.1 1611.8 36.0 1609.5 40.0C1606.9 44.3 1603.0 48.0 1600.7 52.5C1598.4 57.2 1596.7 62.4 1595.7 67.5C1594.6 73.2 1593.4 79.3 1594.5 85.0C1595.7 91.7 1603.4 96.9 1603.2 103.8C1603.0 108.9 1597.6 112.7 1595.7 117.5C1594.3 121.1 1592.7 128.8 1592.7 128.8C1592.7 128.8 1580.9 131.0 1575.7 133.8C1571.0 136.2 1566.9 140.0 1563.2 143.8C1559.9 147.1 1558.1 152.1 1554.5 155.0C1549.8 158.7 1543.2 159.4 1538.2 162.5C1533.7 165.3 1528.9 168.3 1525.7 172.5C1522.5 176.8 1520.5 182.2 1519.5 187.5C1518.5 192.4 1518.3 197.7 1519.5 202.5C1520.9 208.8 1524.4 214.8 1528.2 220.0C1529.6 221.9 1532.3 222.8 1533.2 225.0C1534.5 228.0 1532.8 231.7 1533.2 235.0C1533.8 240.1 1535.6 245.1 1537.0 250.0C1538.1 254.2 1538.8 258.6 1540.7 262.5C1542.3 265.7 1547.0 271.2 1547.0 271.2C1547.0 271.2 1541.3 278.5 1539.5 282.5C1536.9 288.0 1535.5 294.1 1534.5 300.0C1533.3 306.5 1532.2 313.5 1533.2 320.0C1533.9 324.4 1535.8 328.8 1538.2 332.5C1541.1 337.1 1545.6 340.7 1549.5 344.5C1553.0 348.1 1557.7 350.9 1560.7 355.0C1562.4 357.2 1563.9 359.8 1564.5 362.5C1565.8 369.0 1564.6 376.0 1563.2 382.5C1562.5 385.9 1560.3 389.1 1559.5 392.5C1558.7 395.7 1559.5 399.4 1558.2 402.5C1556.9 405.5 1554.7 408.3 1552.0 410.0C1548.0 412.5 1542.7 412.3 1538.2 413.8C1532.4 415.6 1526.0 417.0 1520.7 420.0C1515.1 423.2 1509.7 427.4 1505.7 432.5C1502.3 436.8 1500.7 442.6 1498.2 447.5C1495.7 452.4 1492.5 457.3 1490.7 462.5C1488.6 468.9 1489.4 476.3 1487.0 482.5C1484.4 488.9 1479.3 494.1 1475.7 500.0C1472.3 505.7 1469.7 512.2 1465.7 517.5C1461.5 523.1 1454.8 526.8 1450.7 532.5C1448.5 535.5 1447.7 539.4 1445.7 542.5C1442.9 546.9 1439.2 551.1 1435.7 555.0C1432.6 558.5 1428.3 561.1 1425.7 565.0C1422.7 569.5 1420.5 574.7 1419.5 580.0C1418.3 585.7 1418.9 591.7 1419.5 597.5C1420.1 604.2 1421.3 611.1 1423.2 617.5C1424.4 621.8 1427.4 625.6 1428.2 630.0C1428.8 633.2 1427.9 636.7 1428.2 640.0C1428.6 644.2 1430.7 652.5 1430.7 652.5C1430.7 652.5 1425.5 657.4 1423.2 660.0C1419.7 663.9 1416.2 668.1 1413.2 672.5C1410.0 677.2 1406.2 682.0 1404.5 687.5C1403.2 691.4 1402.6 695.9 1403.2 700.0C1404.0 705.7 1409.6 710.5 1409.5 716.2C1409.3 721.2 1404.6 725.2 1403.2 730.0C1401.4 736.4 1400.5 743.4 1400.7 750.0C1400.9 755.0 1403.5 760.0 1403.7 765.0C1403.9 770.0 1403.4 775.2 1402.0 780.0C1401.2 782.7 1399.2 784.9 1398.2 787.5C1396.0 793.1 1396.0 799.7 1393.2 805.0C1390.2 810.7 1384.5 814.8 1380.7 820.0C1376.1 826.3 1370.8 832.7 1368.2 840.0C1367.1 843.1 1368.3 847.0 1367.0 850.0C1365.2 854.0 1360.4 856.2 1358.2 860.0C1355.6 864.5 1354.7 870.0 1353.2 875.0C1351.8 879.9 1349.8 884.9 1349.5 890.0C1348.9 897.5 1351.8 905.0 1352.0 912.5C1352.1 920.4 1350.2 936.2 1350.2 936.2C1350.2 936.2 1337.2 943.8 1330.7 947.5C1323.3 951.7 1315.4 955.5 1308.2 960.0C1302.2 963.8 1295.9 967.7 1290.7 972.5C1286.0 976.9 1281.9 982.2 1278.2 987.5C1274.4 993.0 1270.9 998.9 1268.2 1005.0C1266.1 1009.8 1266.2 1015.7 1263.2 1020.0C1260.2 1024.3 1254.5 1026.3 1250.7 1030.0C1246.1 1034.5 1241.7 1039.6 1238.2 1045.0C1235.2 1049.6 1231.6 1054.5 1230.7 1060.0C1230.2 1062.9 1231.0 1066.0 1232.0 1068.8C1232.8 1071.0 1235.7 1075.0 1235.7 1075.0C1235.7 1075.0 1232.7 1079.5 1230.7 1081.2C1226.4 1085.0 1220.4 1086.7 1215.7 1090.0C1210.4 1093.7 1205.2 1097.9 1200.7 1102.5C1197.0 1106.3 1193.5 1110.6 1190.7 1115.0C1188.2 1118.9 1186.7 1123.5 1184.5 1127.5C1182.1 1131.7 1178.0 1135.3 1177.0 1140.0C1175.8 1144.8 1176.6 1150.3 1178.2 1155.0C1179.7 1159.2 1183.4 1162.5 1185.7 1166.2C1187.4 1169.1 1188.8 1172.2 1190.7 1175.0C1192.7 1178.0 1195.9 1180.4 1197.5 1183.6C1200.7 1189.8 1203.3 1204.0 1203.3 1204.0C1203.3 1204.0 1193.3 1208.3 1188.7 1211.0C1185.9 1212.6 1183.1 1214.3 1180.7 1216.5C1177.7 1219.3 1175.2 1222.8 1172.7 1226.0C1169.9 1229.5 1167.1 1233.2 1164.7 1237.0C1163.3 1239.2 1162.6 1242.1 1160.7 1244.0C1156.7 1248.0 1150.5 1249.5 1145.7 1252.5C1140.6 1255.6 1134.6 1258.0 1130.7 1262.5C1127.0 1266.6 1124.3 1272.1 1123.2 1277.5C1122.1 1283.2 1125.6 1289.3 1124.5 1295.0C1123.6 1299.5 1120.0 1303.3 1118.2 1307.5C1115.8 1313.1 1112.6 1318.9 1112.0 1325.0C1111.2 1331.6 1115.0 1338.4 1114.5 1345.0C1113.8 1351.9 1108.6 1358.1 1108.2 1365.0C1107.7 1372.1 1112.0 1379.1 1112.0 1386.2C1111.9 1388.4 1111.3 1390.5 1110.7 1392.5C1108.2 1400.2 1104.2 1407.7 1100.7 1415.0C1096.8 1423.3 1092.7 1432.0 1088.2 1440.0C1084.4 1446.8 1081.0 1454.3 1075.7 1460.0C1070.1 1466.1 1060.8 1468.5 1055.7 1475.0C1051.8 1479.9 1052.9 1488.3 1048.2 1492.5C1045.0 1495.4 1039.9 1495.3 1035.7 1496.2C1030.8 1497.4 1025.2 1496.6 1020.7 1498.8C1014.7 1501.7 1010.2 1507.5 1005.7 1512.5C1001.0 1517.8 997.0 1524.0 993.2 1530.0C989.6 1535.7 987.0 1542.4 983.2 1548.0C979.1 1554.1 973.6 1559.6 969.2 1565.5C966.1 1569.7 962.3 1573.7 960.2 1578.5C958.3 1583.0 957.4 1588.1 957.2 1593.0C957.1 1596.0 957.1 1599.2 958.2 1602.0C959.2 1604.4 961.4 1606.3 963.2 1608.2C967.0 1612.3 972.3 1615.1 975.7 1619.5C978.5 1623.2 981.3 1627.4 982.0 1632.0C982.5 1636.2 980.8 1640.5 979.5 1644.5C977.7 1649.7 973.8 1654.3 972.0 1659.5C970.0 1665.1 967.9 1671.1 968.2 1677.0C968.5 1683.9 973.2 1690.2 974.5 1697.0C975.5 1702.7 977.0 1708.9 975.7 1714.5C974.6 1719.2 971.7 1723.7 968.2 1727.0C964.8 1730.1 960.1 1731.9 955.7 1733.2C950.5 1734.9 944.7 1737.0 939.5 1735.8C936.0 1734.9 933.6 1731.5 930.7 1729.5C927.9 1727.6 922.0 1724.0 922.0 1724.0C922.0 1724.0 932.0 1718.5 935.7 1714.5C939.6 1710.3 942.8 1705.0 944.5 1699.5C945.9 1694.7 946.2 1689.4 945.2 1684.5C944.2 1679.1 941.3 1674.0 938.2 1669.5C934.9 1664.7 929.8 1661.1 925.7 1657.0C921.6 1652.9 917.7 1648.2 913.2 1644.5C909.3 1641.3 905.3 1637.7 900.7 1635.8C895.3 1633.5 889.1 1632.5 883.2 1632.5C877.3 1632.5 871.2 1633.7 865.7 1635.8C860.3 1637.7 855.1 1640.8 850.7 1644.5C845.8 1648.7 841.7 1654.1 838.2 1659.5C834.7 1664.9 830.7 1670.7 829.5 1677.0C828.5 1681.9 829.3 1687.2 830.7 1692.0C831.9 1696.1 837.0 1703.2 837.0 1703.2C837.0 1703.2 829.2 1707.1 825.7 1709.5C820.4 1713.1 815.3 1717.4 810.7 1722.0C806.1 1726.6 801.6 1731.5 798.2 1737.0C794.9 1742.4 792.7 1748.5 790.7 1754.5C788.5 1760.9 787.7 1768.0 785.7 1774.5C783.9 1780.4 780.6 1786.0 779.5 1792.0C778.2 1798.5 777.9 1805.4 778.7 1812.0C779.4 1817.1 780.7 1822.5 783.2 1827.0C785.6 1831.3 789.2 1835.4 793.2 1838.2C797.6 1841.4 804.2 1841.0 808.2 1844.5C811.1 1847.0 813.7 1850.7 814.0 1854.5C814.1 1857.2 812.2 1859.8 810.7 1862.0C808.1 1865.9 803.5 1868.3 800.7 1872.0C797.6 1876.1 795.9 1881.3 793.2 1885.8C790.9 1889.6 787.5 1892.9 785.7 1897.0C783.6 1901.7 782.0 1906.9 782.0 1912.0C781.8 1917.9 784.1 1923.8 785.7 1929.5C786.4 1932.0 788.2 1937.0 788.2 1937.0" stroke="#f5a61d" stroke-width="3.4" /></g>
</g>
<g id="p3">
<g class="ln">
<path d="M2174.8 0.8C2174.8 0.8 2173.6 8.5 2172.0 12.0C2170.3 15.7 2166.5 18.3 2164.8 22.0C2163.3 25.1 2162.1 28.6 2162.0 32.0C2161.9 36.2 2163.1 40.6 2164.8 44.5C2166.4 48.6 2170.4 51.6 2172.0 55.8C2173.1 58.5 2173.5 64.5 2173.5 64.5C2173.5 64.5 2161.0 72.0 2156.0 77.0C2152.4 80.6 2149.7 85.2 2147.0 89.5C2142.0 97.4 2138.4 106.5 2133.5 114.5C2125.9 126.9 2116.1 138.4 2108.5 150.8C2105.3 155.9 2103.8 162.4 2099.8 167.0C2096.1 171.2 2090.7 173.9 2086.0 177.0C2082.0 179.7 2076.9 181.1 2073.5 184.5C2071.8 186.2 2069.9 188.4 2069.8 190.8C2069.5 193.9 2071.8 196.8 2073.5 199.5C2075.8 203.2 2080.5 205.5 2082.2 209.5C2083.9 213.3 2083.5 217.9 2083.5 222.0C2083.5 230.3 2081.2 238.7 2081.0 247.0C2080.8 255.3 2082.5 263.7 2082.2 272.0C2082.0 280.3 2079.6 288.7 2079.8 297.0C2079.9 302.8 2080.7 308.9 2082.2 314.5C2083.7 319.7 2085.7 324.9 2088.5 329.5C2090.5 332.7 2092.8 336.1 2096.0 338.2C2098.9 340.2 2102.6 340.8 2106.0 341.5C2112.1 342.8 2124.8 343.2 2124.8 343.2C2124.8 343.2 2127.2 349.5 2127.2 349.5C2127.2 349.5 2123.3 352.4 2121.0 353.2C2116.3 355.0 2111.0 355.6 2106.0 355.8C2101.9 355.9 2097.5 355.5 2093.5 354.5C2088.3 353.2 2083.5 350.1 2078.5 348.2C2074.4 346.7 2070.4 344.0 2066.0 344.0C2061.6 344.0 2057.3 346.0 2053.5 348.2C2048.7 351.1 2045.0 355.7 2041.0 359.5C2037.6 362.7 2033.6 365.6 2031.0 369.5C2028.6 373.2 2027.7 377.9 2026.0 382.0C2023.7 387.6 2021.8 393.6 2019.0 399.0C2016.7 403.5 2013.5 407.6 2011.0 412.0C2005.8 420.9 1999.5 429.8 1996.0 439.5C1992.3 449.8 1992.1 461.3 1989.8 472.0C1987.2 483.6 1984.7 495.7 1981.0 507.0C1978.3 515.2 1975.3 523.7 1971.0 531.2C1968.3 536.0 1965.3 541.1 1961.0 544.5C1954.6 549.6 1945.9 551.2 1938.5 554.5C1931.1 557.8 1923.0 560.4 1916.0 564.5C1912.4 566.6 1906.0 572.0 1906.0 572.0C1906.0 572.0 1906.7 579.1 1908.5 582.0C1911.4 586.4 1917.6 588.0 1921.0 592.0C1925.3 597.1 1928.0 603.5 1931.0 609.5C1933.8 615.1 1935.6 621.4 1938.5 627.0C1942.1 633.9 1947.4 640.1 1951.0 647.0C1954.4 653.4 1958.1 660.0 1959.8 667.0C1961.5 674.2 1961.7 682.1 1961.0 689.5C1960.4 696.3 1958.5 703.2 1956.0 709.5C1953.5 715.7 1948.1 720.7 1946.0 727.0C1943.9 733.3 1944.4 740.4 1943.5 747.0C1942.7 752.8 1942.8 759.0 1941.0 764.5C1938.8 771.2 1936.3 778.7 1931.0 783.2C1924.4 788.9 1914.3 789.3 1906.0 792.0C1900.7 793.7 1895.2 795.1 1890.0 797.0C1886.1 798.4 1881.6 799.3 1878.5 802.0C1873.8 806.1 1872.7 813.4 1868.5 818.0C1864.3 822.6 1858.7 826.1 1853.5 829.5C1846.4 834.2 1837.8 836.9 1831.0 842.0C1824.5 846.9 1818.7 853.2 1813.5 859.5C1810.3 863.4 1804.8 872.0 1804.8 872.0C1804.8 872.0 1806.7 879.0 1808.5 882.0C1810.7 885.8 1817.2 892.0 1817.2 892.0C1817.2 892.0 1813.7 899.2 1811.0 902.0C1806.1 907.2 1798.5 909.5 1793.5 914.5C1790.0 918.1 1786.3 922.2 1784.8 927.0C1783.0 932.5 1785.0 938.7 1784.8 944.5C1784.5 948.6 1782.6 953.0 1783.5 957.0C1784.4 960.8 1787.3 964.0 1789.8 967.0C1791.6 969.3 1796.0 973.2 1796.0 973.2C1796.0 973.2 1785.8 976.1 1781.0 978.2C1774.1 981.3 1767.5 985.6 1761.0 989.5C1754.3 993.5 1748.0 998.6 1741.0 1002.0C1734.7 1005.1 1727.6 1007.0 1721.0 1009.5C1712.7 1012.7 1703.4 1014.6 1696.0 1019.5C1689.2 1024.0 1684.3 1031.2 1678.5 1037.0C1672.7 1042.8 1666.2 1048.2 1661.0 1054.5C1656.8 1059.5 1653.2 1065.2 1649.8 1070.8C1646.6 1075.9 1643.3 1081.4 1641.0 1087.0C1639.4 1091.0 1637.1 1095.2 1637.2 1099.5C1637.3 1101.7 1639.8 1105.8 1639.8 1105.8C1639.8 1105.8 1634.0 1107.8 1631.0 1108.2C1624.5 1109.2 1617.4 1106.7 1611.0 1108.2C1607.4 1109.1 1603.7 1110.7 1601.0 1113.2C1599.2 1114.9 1597.2 1119.5 1597.2 1119.5C1597.2 1119.5 1601.7 1127.7 1603.5 1132.0C1605.5 1136.8 1607.7 1141.8 1608.5 1147.0C1609.4 1152.7 1609.6 1158.8 1608.5 1164.5C1607.4 1169.8 1604.2 1174.5 1602.2 1179.5C1599.7 1186.2 1597.6 1193.3 1595.0 1200.0C1592.2 1207.3 1589.1 1214.8 1586.0 1222.0C1582.8 1229.5 1578.9 1236.9 1576.0 1244.5C1575.1 1246.9 1575.2 1250.0 1573.5 1252.0C1571.7 1254.1 1568.8 1255.6 1566.0 1255.8C1561.6 1255.9 1557.6 1252.4 1553.5 1250.8C1549.4 1249.1 1545.4 1246.6 1541.0 1245.8C1536.1 1244.8 1530.9 1244.8 1526.0 1245.8C1520.7 1246.8 1515.5 1249.0 1511.0 1252.0C1508.1 1253.9 1505.9 1256.9 1503.5 1259.5C1499.2 1264.3 1495.2 1269.6 1491.0 1274.5C1487.8 1278.3 1484.9 1282.7 1481.0 1285.8C1478.1 1288.0 1474.6 1289.9 1471.0 1290.8C1462.6 1292.9 1444.8 1291.5 1444.8 1291.5C1444.8 1291.5 1452.9 1311.5 1453.5 1322.0C1453.8 1327.0 1452.8 1332.3 1451.0 1337.0C1448.2 1344.3 1442.7 1350.5 1438.5 1357.0C1435.3 1362.0 1432.0 1367.2 1428.5 1372.0C1425.0 1376.7 1420.1 1380.6 1417.2 1385.8C1414.1 1391.5 1411.8 1398.0 1411.0 1404.5C1410.3 1410.2 1411.2 1416.3 1412.2 1422.0C1413.5 1428.8 1415.5 1435.8 1418.5 1442.0C1421.1 1447.4 1425.7 1451.7 1428.5 1457.0C1430.6 1460.9 1432.7 1465.1 1433.5 1469.5C1434.2 1473.3 1433.3 1477.4 1433.5 1481.2C1433.7 1486.5 1434.7 1491.8 1434.8 1497.0C1434.8 1502.8 1432.4 1508.8 1433.5 1514.5C1434.6 1519.9 1439.4 1524.2 1441.0 1529.5C1442.0 1532.7 1442.8 1536.2 1442.2 1539.5C1441.5 1544.0 1437.6 1547.7 1436.0 1552.0C1435.1 1554.4 1433.8 1556.9 1434.0 1559.5C1434.1 1561.1 1436.0 1564.0 1436.0 1564.0C1436.0 1564.0 1469.2 1564.0 1469.2 1564.0C1469.2 1564.0 1469.2 1629.5 1469.2 1629.5" stroke="#bcbcbc" stroke-width="2.8" />
<path d="M1469.2 1602.8C1469.2 1602.8 1450.3 1602.8 1441.0 1602.8C1433.4 1602.8 1425.6 1602.3 1418.0 1602.8C1415.7 1602.9 1413.1 1602.6 1411.0 1603.5C1408.5 1604.6 1406.0 1606.5 1404.8 1609.0C1402.5 1613.4 1404.7 1619.2 1403.5 1624.0C1402.0 1630.1 1399.1 1636.0 1396.0 1641.5C1392.5 1647.7 1388.9 1654.4 1383.5 1659.0C1380.7 1661.4 1377.1 1663.2 1373.5 1664.0C1366.3 1665.7 1358.4 1663.7 1351.0 1664.0C1346.0 1664.2 1336.0 1665.2 1336.0 1665.2C1336.0 1665.2 1333.5 1670.2 1333.5 1670.2C1333.5 1670.2 1340.4 1675.9 1343.5 1679.0C1348.0 1683.6 1352.1 1688.8 1356.0 1694.0C1358.2 1696.9 1360.8 1699.9 1362.2 1703.2C1363.7 1706.6 1364.7 1710.4 1364.8 1714.0C1364.9 1720.7 1362.7 1727.5 1361.0 1734.0C1359.0 1741.6 1356.0 1749.1 1353.5 1756.5C1351.0 1763.9 1348.4 1771.6 1346.0 1779.0C1343.9 1785.3 1341.6 1791.8 1339.8 1798.2C1338.3 1803.4 1336.8 1808.7 1336.0 1814.0C1334.8 1822.2 1335.4 1830.8 1334.8 1839.0C1334.1 1847.3 1332.2 1855.7 1332.2 1864.0C1332.2 1868.1 1332.8 1872.4 1333.5 1876.5C1334.4 1882.1 1336.5 1887.6 1337.2 1893.2C1338.2 1900.0 1338.7 1907.1 1338.5 1914.0C1338.3 1920.6 1336.0 1934.0 1336.0 1934.0" stroke="#bcbcbc" stroke-width="2.8" />
<polyline points="1493.5,1640.8 1559.8,1640.8" stroke="#bcbcbc" stroke-width="2.8" />
<polyline points="2172.0,55.8 2178.0,55.8" stroke="#868686" stroke-width="2.6" stroke-linecap="butt"/>
<polyline points="2108.5,151.5 2134.8,151.5" stroke="#868686" stroke-width="2.6" stroke-linecap="butt"/>
<polyline points="2081.0,246.2 2117.0,246.2" stroke="#868686" stroke-width="2.6" stroke-linecap="butt"/>
<polyline points="2106.0,341.5 2129.8,341.5" stroke="#868686" stroke-width="2.6" stroke-linecap="butt"/>
<polyline points="1971.0,531.2 2028.5,531.2" stroke="#868686" stroke-width="2.6" stroke-linecap="butt"/>
<polyline points="1938.5,627.0 2007.0,627.0" stroke="#868686" stroke-width="2.6" stroke-linecap="butt"/>
<polyline points="1926.0,783.8 1978.5,783.8" stroke="#868686" stroke-width="2.6" stroke-linecap="butt"/>
<polyline points="1784.8,944.5 1911.0,944.5" stroke="#868686" stroke-width="2.6" stroke-linecap="butt"/>
<polyline points="1649.8,1070.2 1812.0,1070.2" stroke="#868686" stroke-width="2.6" stroke-linecap="butt"/>
<polyline points="1606.0,1165.2 1767.0,1165.2" stroke="#868686" stroke-width="2.6" stroke-linecap="butt"/>
<polyline points="1503.5,1260.0 1711.0,1260.0" stroke="#868686" stroke-width="2.6" stroke-linecap="butt"/>
<polyline points="1469.2,1323.2 1692.0,1323.2" stroke="#868686" stroke-width="2.6" stroke-linecap="butt"/>
<polyline points="1428.5,1386.2 1692.0,1386.2" stroke="#868686" stroke-width="2.6" stroke-linecap="butt"/>
<polyline points="1433.5,1481.2 1469.2,1481.2" stroke="#868686" stroke-width="2.6" stroke-linecap="butt"/>
<polyline points="1469.2,1513.2 1581.0,1513.2" stroke="#868686" stroke-width="2.6" stroke-linecap="butt"/>
<polyline points="1469.2,1576.5 1540.0,1576.5" stroke="#868686" stroke-width="2.6" stroke-linecap="butt"/>
<polyline points="1469.2,1602.8 1538.5,1602.8" stroke="#868686" stroke-width="2.6" stroke-linecap="butt"/>
<polyline points="1362.2,1703.2 1413.5,1703.2" stroke="#868686" stroke-width="2.6" stroke-linecap="butt"/>
<polyline points="1339.8,1798.2 1359.0,1798.2" stroke="#868686" stroke-width="2.6" stroke-linecap="butt"/>
<polyline points="1337.2,1893.2 1366.0,1893.2" stroke="#868686" stroke-width="2.6" stroke-linecap="butt"/>
<polyline points="1469.2,1291.5 1469.2,1564.0" stroke="#868686" stroke-width="2.6" stroke-linecap="butt"/>
<polyline points="1469.2,1355.0 1451.0,1355.0 1428.5,1385.8" stroke="#868686" stroke-width="2.6" stroke-linecap="butt"/>
</g>
<g class="ln"><path d="M2209.8 -0.5C2209.8 -0.5 2214.8 8.0 2214.8 8.0C2214.8 8.0 2212.4 11.1 2211.0 12.5C2206.5 16.9 2200.0 19.6 2196.0 24.5C2193.1 28.1 2192.1 33.0 2189.8 37.0C2187.2 41.3 2183.3 45.0 2181.0 49.5C2178.7 54.2 2177.0 59.4 2176.0 64.5C2174.9 70.2 2173.7 76.3 2174.8 82.0C2176.0 88.7 2183.7 93.9 2183.5 100.8C2183.3 105.9 2177.9 109.7 2176.0 114.5C2174.6 118.1 2173.0 125.8 2173.0 125.8C2173.0 125.8 2161.2 128.0 2156.0 130.8C2151.3 133.2 2147.2 137.0 2143.5 140.8C2140.2 144.1 2138.4 149.1 2134.8 152.0C2130.1 155.7 2123.5 156.4 2118.5 159.5C2114.0 162.3 2109.2 165.3 2106.0 169.5C2102.8 173.8 2100.8 179.2 2099.8 184.5C2098.8 189.4 2098.6 194.7 2099.8 199.5C2101.2 205.8 2104.7 211.8 2108.5 217.0C2109.9 218.9 2112.6 219.8 2113.5 222.0C2114.8 225.0 2113.1 228.7 2113.5 232.0C2114.1 237.1 2115.9 242.1 2117.2 247.0C2118.4 251.2 2119.1 255.6 2121.0 259.5C2122.6 262.7 2127.2 268.2 2127.2 268.2C2127.2 268.2 2121.6 275.5 2119.8 279.5C2117.2 285.0 2115.8 291.1 2114.8 297.0C2113.6 303.5 2112.5 310.5 2113.5 317.0C2114.2 321.4 2116.1 325.8 2118.5 329.5C2121.4 334.1 2125.9 337.7 2129.8 341.5C2133.3 345.1 2138.0 347.9 2141.0 352.0C2142.7 354.2 2144.2 356.8 2144.8 359.5C2146.1 366.0 2144.9 373.0 2143.5 379.5C2142.8 382.9 2140.6 386.1 2139.8 389.5C2139.0 392.7 2139.8 396.4 2138.5 399.5C2137.2 402.5 2135.0 405.3 2132.2 407.0C2128.3 409.5 2123.0 409.3 2118.5 410.8C2112.7 412.6 2106.3 414.0 2101.0 417.0C2095.4 420.2 2090.0 424.4 2086.0 429.5C2082.6 433.8 2081.0 439.6 2078.5 444.5C2076.0 449.4 2072.8 454.3 2071.0 459.5C2068.9 465.9 2069.7 473.3 2067.2 479.5C2064.7 485.9 2059.6 491.1 2056.0 497.0C2052.6 502.7 2050.0 509.2 2046.0 514.5C2041.8 520.1 2035.1 523.8 2031.0 529.5C2028.8 532.5 2028.0 536.4 2026.0 539.5C2023.2 543.9 2019.5 548.1 2016.0 552.0C2012.9 555.5 2008.6 558.1 2006.0 562.0C2003.0 566.5 2000.8 571.7 1999.8 577.0C1998.6 582.7 1999.2 588.7 1999.8 594.5C2000.4 601.2 2001.6 608.1 2003.5 614.5C2004.7 618.8 2007.7 622.6 2008.5 627.0C2009.1 630.2 2008.2 633.7 2008.5 637.0C2008.9 641.2 2011.0 649.5 2011.0 649.5C2011.0 649.5 2005.8 654.4 2003.5 657.0C2000.0 660.9 1996.5 665.1 1993.5 669.5C1990.3 674.2 1986.5 679.0 1984.8 684.5C1983.5 688.4 1982.9 692.9 1983.5 697.0C1984.3 702.7 1989.9 707.5 1989.8 713.2C1989.6 718.2 1984.9 722.2 1983.5 727.0C1981.7 733.4 1980.8 740.4 1981.0 747.0C1981.2 752.0 1983.8 757.0 1984.0 762.0C1984.2 767.0 1983.7 772.2 1982.2 777.0C1981.5 779.7 1979.5 781.9 1978.5 784.5C1976.3 790.1 1976.3 796.7 1973.5 802.0C1970.5 807.7 1964.8 811.8 1961.0 817.0C1956.4 823.3 1951.1 829.7 1948.5 837.0C1947.4 840.1 1948.6 844.0 1947.2 847.0C1945.5 851.0 1940.7 853.2 1938.5 857.0C1935.9 861.5 1935.0 867.0 1933.5 872.0C1932.1 876.9 1930.1 881.9 1929.8 887.0C1929.2 894.5 1932.1 902.0 1932.2 909.5C1932.4 917.4 1930.5 933.2 1930.5 933.2C1930.5 933.2 1917.5 940.8 1911.0 944.5C1903.6 948.7 1895.7 952.5 1888.5 957.0C1882.5 960.8 1876.2 964.7 1871.0 969.5C1866.3 973.9 1862.2 979.2 1858.5 984.5C1854.7 990.0 1851.2 995.9 1848.5 1002.0C1846.4 1006.8 1846.5 1012.7 1843.5 1017.0C1840.5 1021.3 1834.8 1023.3 1831.0 1027.0C1826.4 1031.5 1822.0 1036.6 1818.5 1042.0C1815.5 1046.6 1811.9 1051.5 1811.0 1057.0C1810.5 1059.9 1811.3 1063.0 1812.2 1065.8C1813.1 1068.0 1816.0 1072.0 1816.0 1072.0C1816.0 1072.0 1813.0 1076.5 1811.0 1078.2C1806.7 1082.0 1800.7 1083.7 1796.0 1087.0C1790.7 1090.7 1785.5 1094.9 1781.0 1099.5C1777.3 1103.3 1773.8 1107.6 1771.0 1112.0C1768.5 1115.9 1767.0 1120.5 1764.8 1124.5C1762.4 1128.7 1758.3 1132.3 1757.2 1137.0C1756.1 1141.8 1756.9 1147.3 1758.5 1152.0C1760.0 1156.2 1763.7 1159.5 1766.0 1163.2C1767.7 1166.1 1769.1 1169.2 1771.0 1172.0C1773.0 1175.0 1776.2 1177.4 1777.8 1180.6C1781.0 1186.8 1783.6 1201.0 1783.6 1201.0C1783.6 1201.0 1773.6 1205.3 1769.0 1208.0C1766.2 1209.6 1763.4 1211.3 1761.0 1213.5C1758.0 1216.3 1755.5 1219.8 1753.0 1223.0C1750.2 1226.5 1747.4 1230.2 1745.0 1234.0C1743.6 1236.2 1742.9 1239.1 1741.0 1241.0C1737.0 1245.0 1730.8 1246.5 1726.0 1249.5C1720.9 1252.6 1714.9 1255.0 1711.0 1259.5C1707.3 1263.6 1704.6 1269.1 1703.5 1274.5C1702.4 1280.2 1705.9 1286.3 1704.8 1292.0C1703.9 1296.5 1700.3 1300.3 1698.5 1304.5C1696.1 1310.1 1692.9 1315.9 1692.2 1322.0C1691.5 1328.6 1695.3 1335.4 1694.8 1342.0C1694.1 1348.9 1688.9 1355.1 1688.5 1362.0C1688.0 1369.1 1692.3 1376.1 1692.2 1383.2C1692.2 1385.4 1691.6 1387.5 1691.0 1389.5C1688.5 1397.2 1684.5 1404.7 1681.0 1412.0C1677.1 1420.3 1673.0 1429.0 1668.5 1437.0C1664.7 1443.8 1661.3 1451.3 1656.0 1457.0C1650.4 1463.1 1641.1 1465.5 1636.0 1472.0C1632.1 1476.9 1633.2 1485.3 1628.5 1489.5C1625.3 1492.4 1620.2 1492.3 1616.0 1493.2C1611.1 1494.4 1605.5 1493.6 1601.0 1495.8C1595.0 1498.7 1590.5 1504.5 1586.0 1509.5C1581.3 1514.8 1577.3 1521.0 1573.5 1527.0C1569.9 1532.7 1567.3 1539.4 1563.5 1545.0C1559.4 1551.1 1553.9 1556.6 1549.5 1562.5C1546.4 1566.7 1542.6 1570.7 1540.5 1575.5C1538.6 1580.0 1537.7 1585.1 1537.5 1590.0C1537.4 1593.0 1537.4 1596.2 1538.5 1599.0C1539.5 1601.4 1541.7 1603.3 1543.5 1605.2C1547.3 1609.3 1552.6 1612.1 1556.0 1616.5C1558.8 1620.2 1561.6 1624.4 1562.2 1629.0C1562.8 1633.2 1561.1 1637.5 1559.8 1641.5C1558.0 1646.7 1554.1 1651.3 1552.2 1656.5C1550.3 1662.1 1548.2 1668.1 1548.5 1674.0C1548.8 1680.9 1553.5 1687.2 1554.8 1694.0C1555.8 1699.7 1557.3 1705.9 1556.0 1711.5C1554.9 1716.2 1552.0 1720.7 1548.5 1724.0C1545.1 1727.1 1540.4 1728.9 1536.0 1730.2C1530.8 1731.9 1525.0 1734.0 1519.8 1732.8C1516.3 1731.9 1513.9 1728.5 1511.0 1726.5C1508.2 1724.6 1502.2 1721.0 1502.2 1721.0C1502.2 1721.0 1512.3 1715.5 1516.0 1711.5C1519.9 1707.3 1523.1 1702.0 1524.8 1696.5C1526.2 1691.7 1526.5 1686.4 1525.5 1681.5C1524.5 1676.1 1521.6 1671.0 1518.5 1666.5C1515.2 1661.7 1510.1 1658.1 1506.0 1654.0C1501.9 1649.9 1498.0 1645.2 1493.5 1641.5C1489.6 1638.3 1485.6 1634.7 1481.0 1632.8C1475.6 1630.5 1469.4 1629.5 1463.5 1629.5C1457.6 1629.5 1451.5 1630.7 1446.0 1632.8C1440.6 1634.7 1435.4 1637.8 1431.0 1641.5C1426.1 1645.7 1422.0 1651.1 1418.5 1656.5C1415.0 1661.9 1411.0 1667.7 1409.8 1674.0C1408.8 1678.9 1409.6 1684.2 1411.0 1689.0C1412.2 1693.1 1417.2 1700.2 1417.2 1700.2C1417.2 1700.2 1409.5 1704.1 1406.0 1706.5C1400.7 1710.1 1395.6 1714.4 1391.0 1719.0C1386.4 1723.6 1381.9 1728.5 1378.5 1734.0C1375.2 1739.4 1373.0 1745.5 1371.0 1751.5C1368.8 1757.9 1368.0 1765.0 1366.0 1771.5C1364.2 1777.4 1360.9 1783.0 1359.8 1789.0C1358.5 1795.5 1358.2 1802.4 1359.0 1809.0C1359.7 1814.1 1361.0 1819.5 1363.5 1824.0C1365.9 1828.3 1369.5 1832.4 1373.5 1835.2C1377.9 1838.4 1384.5 1838.0 1388.5 1841.5C1391.4 1844.0 1394.0 1847.7 1394.2 1851.5C1394.4 1854.2 1392.5 1856.8 1391.0 1859.0C1388.4 1862.9 1383.8 1865.3 1381.0 1869.0C1377.9 1873.1 1376.2 1878.3 1373.5 1882.8C1371.2 1886.6 1367.8 1889.9 1366.0 1894.0C1363.9 1898.7 1362.3 1903.9 1362.2 1909.0C1362.1 1914.9 1364.4 1920.8 1366.0 1926.5C1366.7 1929.0 1368.5 1934.0 1368.5 1934.0" stroke="#f5a61d" stroke-width="3.4" />
<path d="M2253.8 0.0C2253.8 0.0 2252.4 12.3 2252.5 15.0C2252.5 16.8 2254.3 23.3 2253.8 25.0C2253.0 27.3 2246.9 33.5 2245.0 35.0C2243.4 36.2 2236.8 39.1 2235.0 40.0C2233.4 40.9 2226.2 45.0 2226.2 45.0C2226.2 45.0 2229.2 51.2 2230.0 52.5C2230.8 53.7 2235.0 58.8 2235.0 58.8C2235.0 58.8 2231.1 63.1 2230.0 63.8C2228.4 64.8 2220.0 67.5 2220.0 67.5C2220.0 67.5 2215.0 63.8 2215.0 63.8C2215.0 63.8 2212.5 70.9 2212.5 72.5C2212.5 74.4 2214.2 80.8 2215.0 82.5C2216.0 84.5 2221.6 90.4 2222.5 92.5C2223.4 94.6 2224.6 102.8 2225.0 105.0C2225.4 107.2 2227.5 117.5 2227.5 117.5C2227.5 117.5 2221.4 121.8 2220.0 122.5C2218.3 123.4 2210.0 126.2 2210.0 126.2C2210.0 126.2 2209.6 133.5 2210.0 135.0C2210.3 136.5 2213.5 141.0 2213.8 142.5C2214.1 144.3 2213.4 150.9 2212.5 152.5C2211.4 154.6 2204.5 160.0 2202.5 161.2C2200.0 162.8 2187.5 167.5 2187.5 167.5C2187.5 167.5 2177.5 160.0 2177.5 160.0C2177.5 160.0 2170.8 164.7 2170.0 166.2C2168.8 168.5 2169.7 177.7 2168.8 180.0C2168.2 181.3 2165.0 185.6 2163.8 186.2C2162.0 187.2 2154.5 187.6 2152.5 187.5C2150.4 187.4 2143.3 185.1 2141.2 185.5C2140.2 185.7 2136.2 188.8 2136.2 188.8C2136.2 188.8 2145.5 197.9 2147.5 200.0C2149.6 202.2 2157.4 209.8 2158.8 212.5C2159.3 213.7 2160.0 220.0 2160.0 220.0C2160.0 220.0 2151.2 227.5 2151.2 227.5C2151.2 227.5 2160.0 237.5 2160.0 237.5C2160.0 237.5 2156.2 246.2 2156.2 246.2C2156.2 246.2 2165.9 255.1 2167.5 257.5C2168.8 259.5 2172.0 267.6 2172.5 270.0C2172.9 272.2 2172.5 282.5 2172.5 282.5C2172.5 282.5 2159.4 287.6 2157.5 290.0C2156.3 291.4 2155.5 298.2 2155.0 300.0C2154.4 302.3 2151.2 312.5 2151.2 312.5C2151.2 312.5 2158.3 320.8 2160.0 322.5C2162.1 324.5 2170.4 330.6 2172.5 332.5C2174.4 334.2 2180.8 340.6 2182.5 342.5C2184.0 344.2 2189.3 350.4 2190.0 352.5C2190.4 353.8 2190.4 358.7 2190.0 360.0C2189.4 362.0 2184.2 367.9 2183.8 370.0C2183.4 371.8 2185.3 378.2 2185.0 380.0C2184.7 382.0 2180.5 388.1 2180.0 390.0C2179.4 392.3 2179.7 400.7 2179.0 403.0C2178.3 405.4 2174.0 413.1 2172.5 415.0C2169.9 418.2 2158.5 427.7 2155.0 430.0C2151.6 432.2 2138.7 438.4 2135.0 440.0C2133.9 440.5 2129.9 442.2 2128.8 442.5C2126.8 443.1 2117.5 444.5 2117.5 444.5C2117.5 444.5 2116.9 453.2 2116.2 455.0C2115.4 457.5 2109.8 465.1 2108.8 467.5C2107.7 470.1 2105.3 479.7 2105.0 482.5C2104.7 485.0 2106.0 494.0 2105.0 496.2C2104.3 497.8 2098.7 501.2 2097.5 502.5C2096.0 504.1 2091.3 510.7 2090.0 512.5C2088.7 514.3 2084.0 520.8 2082.5 522.5C2080.8 524.4 2074.1 530.5 2072.5 532.5C2070.7 534.6 2065.2 542.6 2063.8 545.0C2062.5 547.2 2059.0 555.5 2057.5 557.5C2056.0 559.6 2048.9 565.4 2047.5 567.5C2046.5 568.9 2044.9 575.0 2043.8 576.2C2042.9 577.2 2037.5 580.0 2037.5 580.0C2037.5 580.0 2037.2 590.3 2037.5 592.5C2037.8 594.8 2040.6 602.8 2041.2 605.0C2041.9 607.2 2044.5 615.2 2045.0 617.5C2045.6 620.2 2047.0 629.8 2047.5 632.5C2048.0 635.2 2049.8 644.8 2050.0 647.5C2050.2 650.6 2050.5 662.0 2049.5 665.0C2048.8 667.1 2044.3 673.8 2042.5 675.0C2041.2 675.9 2035.1 676.0 2033.8 677.0C2032.0 678.3 2028.8 685.7 2027.5 687.5C2026.5 688.9 2021.2 695.0 2021.2 695.0C2021.2 695.0 2026.4 705.2 2027.5 707.5C2028.2 708.9 2031.1 713.5 2031.2 715.0C2031.5 716.8 2029.4 723.3 2028.8 725.0C2027.9 727.4 2023.4 735.1 2022.5 737.5C2021.9 739.2 2019.9 745.6 2020.0 747.5C2020.1 749.4 2023.5 755.6 2023.8 757.5C2024.0 759.7 2022.5 767.7 2022.5 770.0C2022.5 772.3 2023.9 780.2 2023.8 782.5C2023.5 785.3 2021.1 794.9 2020.0 797.5C2019.2 799.5 2014.6 805.5 2013.8 807.5C2013.4 808.4 2013.0 811.7 2012.5 812.5C2010.9 815.3 2002.1 822.6 2000.0 825.0C1998.1 827.1 1991.6 835.1 1990.0 837.5C1988.9 839.2 1985.3 845.5 1985.0 847.5C1984.7 849.3 1986.8 855.8 1986.2 857.5C1985.1 861.0 1974.0 869.2 1972.5 872.5C1970.8 876.2 1970.4 890.9 1970.0 895.0C1969.7 898.1 1968.6 909.3 1968.8 912.5C1968.9 915.7 1971.4 926.8 1971.2 930.0C1971.1 933.2 1968.7 944.5 1967.5 947.5C1966.5 949.9 1962.0 958.3 1960.0 960.0C1957.0 962.6 1943.6 967.2 1940.0 968.8C1936.4 970.3 1923.4 975.6 1920.0 977.5C1916.6 979.4 1905.5 987.5 1902.5 990.0C1900.1 992.1 1891.6 999.8 1890.0 1002.5C1888.8 1004.5 1886.6 1012.7 1886.2 1015.0C1885.9 1017.2 1887.2 1025.4 1886.2 1027.5C1885.1 1030.0 1876.7 1035.4 1875.0 1037.5C1873.9 1038.9 1871.4 1045.1 1870.0 1046.2C1868.5 1047.5 1861.6 1048.9 1860.0 1050.0C1857.8 1051.5 1850.0 1061.2 1850.0 1061.2C1850.0 1061.2 1854.7 1072.4 1855.0 1075.0C1855.3 1077.2 1854.6 1085.4 1853.8 1087.5C1852.8 1089.7 1846.7 1095.8 1845.0 1097.5C1843.3 1099.2 1837.0 1104.9 1835.0 1106.2C1832.5 1107.9 1822.5 1112.1 1820.0 1113.8C1817.6 1115.3 1809.6 1121.8 1807.5 1123.8C1806.3 1124.8 1802.0 1128.6 1801.2 1130.0C1800.2 1132.0 1798.3 1140.3 1798.8 1142.5C1799.3 1145.2 1806.1 1152.6 1807.5 1155.0C1809.0 1157.6 1813.8 1167.2 1815.0 1170.0C1816.1 1172.6 1819.1 1182.3 1820.0 1185.0C1820.9 1187.7 1824.2 1197.3 1825.0 1200.0C1825.5 1201.8 1827.8 1208.2 1827.5 1210.0C1827.2 1212.1 1822.8 1218.6 1821.2 1220.0C1819.2 1221.8 1810.0 1225.1 1807.5 1226.2C1804.8 1227.5 1794.4 1231.4 1792.5 1233.8C1791.5 1235.0 1790.9 1241.2 1790.0 1242.5C1788.7 1244.4 1781.2 1248.1 1780.0 1250.0C1779.0 1251.5 1778.7 1258.6 1777.5 1260.0C1775.9 1262.0 1767.2 1265.1 1765.0 1266.2C1763.0 1267.3 1755.7 1271.2 1753.8 1272.5C1751.9 1273.7 1744.9 1278.1 1743.8 1280.0C1742.8 1281.6 1742.4 1288.2 1742.5 1290.0C1742.6 1291.9 1745.1 1298.1 1745.0 1300.0C1744.8 1302.4 1741.3 1310.5 1740.0 1312.5C1738.9 1314.1 1733.3 1318.3 1732.5 1320.0C1731.4 1322.5 1730.9 1332.3 1731.2 1335.0C1731.5 1336.9 1735.0 1343.1 1735.0 1345.0C1735.0 1347.4 1730.7 1355.2 1730.0 1357.5C1729.4 1359.3 1727.4 1365.6 1727.5 1367.5C1727.7 1369.9 1732.0 1377.6 1732.5 1380.0C1733.1 1383.1 1733.2 1394.4 1732.5 1397.5C1731.8 1400.4 1726.5 1409.9 1725.0 1412.5C1723.7 1414.8 1718.8 1422.7 1717.5 1425.0C1716.0 1427.6 1711.0 1437.1 1710.0 1440.0C1709.3 1442.2 1708.5 1450.4 1707.5 1452.5C1706.3 1455.1 1699.1 1462.6 1697.5 1465.0C1697.0 1465.8 1695.6 1469.2 1695.0 1470.0C1694.4 1470.7 1691.0 1473.0 1691.0 1473.0C1691.0 1473.0 1694.1 1476.2 1694.5 1477.0C1694.8 1477.7 1695.5 1481.0 1695.5 1481.0C1695.5 1481.0 1690.1 1485.0 1689.0 1486.0C1688.2 1486.8 1685.4 1489.9 1685.0 1491.0C1684.4 1492.4 1684.9 1498.2 1684.0 1499.5C1683.3 1500.6 1677.5 1503.0 1677.5 1503.0C1677.5 1503.0 1677.3 1496.4 1677.0 1495.0C1676.8 1494.1 1675.0 1490.5 1675.0 1490.5C1675.0 1490.5 1670.0 1490.5 1670.0 1490.5C1670.0 1490.5 1667.7 1493.7 1667.5 1494.5C1667.1 1495.9 1667.9 1501.1 1667.5 1502.5C1667.2 1503.5 1664.7 1506.7 1664.0 1507.5C1663.3 1508.4 1659.5 1512.0 1659.5 1512.0C1659.5 1512.0 1665.1 1514.1 1666.0 1515.0C1667.0 1516.1 1668.1 1521.4 1669.0 1522.5C1669.7 1523.4 1673.2 1525.3 1674.0 1526.0C1674.7 1526.6 1677.5 1530.0 1677.5 1530.0C1677.5 1530.0 1674.7 1535.8 1674.0 1537.0C1673.4 1538.0 1670.8 1541.6 1670.0 1542.5C1669.4 1543.2 1666.0 1546.0 1666.0 1546.0C1666.0 1546.0 1669.6 1551.2 1670.0 1552.5C1670.2 1553.4 1670.3 1556.6 1670.0 1557.5C1669.6 1558.7 1666.8 1562.1 1666.0 1563.0C1665.7 1563.4 1664.4 1564.7 1664.0 1565.0C1662.7 1565.7 1657.3 1566.2 1656.0 1567.0C1654.6 1567.8 1650.0 1573.5 1650.0 1573.5C1650.0 1573.5 1641.8 1570.9 1640.0 1570.5C1638.2 1570.1 1631.8 1569.1 1630.0 1568.8C1628.4 1568.5 1622.3 1568.0 1621.0 1567.0C1620.0 1566.3 1617.5 1561.0 1617.5 1561.0C1617.5 1561.0 1622.0 1556.3 1622.5 1555.0C1623.1 1553.3 1622.3 1546.8 1622.5 1545.0C1622.7 1543.2 1624.8 1536.8 1625.0 1535.0C1625.1 1533.9 1625.5 1529.8 1625.0 1528.8C1624.5 1527.7 1621.1 1525.4 1620.0 1525.0C1618.9 1524.6 1613.8 1525.0 1613.8 1525.0C1613.8 1525.0 1615.1 1528.0 1615.0 1528.8C1614.8 1530.3 1610.6 1534.5 1610.0 1536.0C1609.4 1537.5 1609.0 1543.4 1608.8 1545.0C1608.5 1546.8 1608.4 1553.4 1607.5 1555.0C1606.8 1556.3 1602.2 1559.1 1601.0 1560.0C1600.5 1560.4 1598.0 1562.0 1598.0 1562.0C1598.0 1562.0 1600.6 1566.0 1601.0 1567.0C1601.6 1568.4 1603.0 1573.5 1603.0 1575.0C1603.0 1576.4 1601.2 1582.5 1601.2 1582.5C1601.2 1582.5 1597.1 1583.3 1596.2 1583.0C1595.4 1582.8 1593.1 1580.6 1592.5 1580.0C1591.6 1579.2 1587.5 1575.0 1587.5 1575.0C1587.5 1575.0 1585.5 1578.1 1585.0 1578.8C1583.7 1580.2 1577.9 1583.9 1577.0 1585.5C1576.6 1586.1 1576.2 1589.5 1576.2 1589.5C1576.2 1589.5 1579.3 1590.5 1580.0 1590.5C1581.3 1590.5 1587.0 1588.8 1587.0 1588.8C1587.0 1588.8 1590.0 1591.3 1590.5 1592.0C1591.1 1592.9 1592.4 1596.6 1593.0 1597.5C1594.0 1599.0 1599.1 1603.4 1600.0 1605.0C1600.8 1606.4 1602.3 1612.1 1602.5 1613.8C1602.9 1616.6 1602.7 1627.1 1602.5 1630.0C1602.3 1632.7 1600.7 1642.3 1600.0 1645.0C1599.3 1647.8 1596.0 1657.3 1595.0 1660.0C1594.0 1662.7 1588.8 1674.5 1588.8 1674.5C1588.8 1674.5 1596.0 1680.6 1597.5 1682.0C1598.9 1683.3 1604.1 1687.8 1605.0 1689.5C1605.5 1690.3 1606.2 1694.5 1606.2 1694.5C1606.2 1694.5 1597.6 1701.3 1596.2 1703.2C1595.9 1703.8 1595.0 1707.0 1595.0 1707.0C1595.0 1707.0 1601.2 1714.5 1601.2 1714.5C1601.2 1714.5 1594.1 1724.8 1592.5 1727.0C1591.2 1728.8 1586.5 1735.4 1585.0 1737.0C1582.6 1739.5 1572.9 1747.6 1570.0 1749.5C1567.1 1751.4 1555.8 1757.1 1552.5 1758.2C1549.5 1759.3 1538.2 1761.5 1535.0 1762.0C1531.0 1762.7 1516.6 1764.4 1512.5 1764.5C1509.3 1764.6 1498.0 1762.1 1495.0 1763.2C1493.5 1763.8 1488.8 1769.5 1488.8 1769.5C1488.8 1769.5 1495.0 1759.5 1495.0 1759.5C1495.0 1759.5 1477.5 1760.8 1477.5 1760.8C1477.5 1760.8 1487.5 1752.0 1487.5 1752.0C1487.5 1752.0 1481.4 1750.9 1480.0 1750.8C1477.3 1750.5 1467.7 1751.2 1465.0 1750.8C1461.7 1750.2 1449.8 1746.9 1447.5 1744.5C1445.5 1742.5 1444.4 1731.7 1442.5 1729.5C1441.8 1728.7 1437.5 1727.0 1437.5 1727.0C1437.5 1727.0 1431.3 1733.2 1430.0 1734.5C1427.8 1736.8 1419.8 1744.8 1417.5 1747.0C1416.2 1748.3 1410.6 1752.7 1410.0 1754.5C1409.2 1756.6 1411.2 1767.0 1411.2 1767.0C1411.2 1767.0 1405.0 1772.0 1405.0 1772.0C1405.0 1772.0 1410.0 1779.5 1410.0 1779.5C1410.0 1779.5 1403.8 1789.5 1403.8 1789.5C1403.8 1789.5 1408.8 1794.5 1408.8 1794.5C1408.8 1794.5 1400.0 1800.8 1400.0 1800.8C1400.0 1800.8 1405.0 1804.5 1405.0 1804.5C1405.0 1804.5 1402.5 1812.0 1402.5 1812.0C1402.5 1812.0 1408.6 1809.4 1410.0 1809.5C1412.0 1809.6 1418.5 1813.1 1420.0 1814.5C1421.9 1816.3 1426.2 1824.7 1427.5 1827.0C1429.0 1829.6 1434.3 1839.1 1435.0 1842.0C1435.8 1845.5 1435.4 1858.4 1435.0 1862.0C1434.8 1864.3 1433.8 1872.6 1432.5 1874.5C1431.0 1876.6 1422.2 1880.5 1420.0 1882.0C1418.8 1882.8 1413.8 1887.0 1413.8 1887.0C1413.8 1887.0 1417.5 1897.0 1417.5 1897.0C1417.5 1897.0 1410.0 1903.2 1410.0 1903.2C1410.0 1903.2 1417.5 1908.2 1417.5 1908.2C1417.5 1908.2 1405.0 1898.2 1405.0 1898.2C1405.0 1898.2 1400.9 1911.5 1401.2 1914.5C1401.5 1917.0 1406.4 1924.8 1407.5 1927.0C1408.4 1928.8 1412.5 1937.0 1412.5 1937.0" stroke="#868686" stroke-width="2.7" />
<path d="M1641.9 1521.2C1641.9 1521.2 1638.1 1523.1 1637.5 1523.8C1636.7 1524.7 1635.4 1528.9 1635.0 1530.0C1634.5 1531.4 1632.5 1538.0 1632.5 1538.0C1632.5 1538.0 1636.8 1535.8 1637.5 1535.0C1638.5 1533.9 1640.8 1528.9 1641.2 1527.5C1641.6 1526.4 1641.9 1521.2 1641.9 1521.2" stroke="#868686" stroke-width="2.7" />
<path d="M1460.0 1659.5C1460.0 1659.5 1456.2 1669.9 1455.0 1672.0C1454.1 1673.7 1448.8 1680.8 1448.8 1680.8C1448.8 1680.8 1456.1 1689.9 1457.5 1692.0C1458.5 1693.5 1462.5 1700.8 1462.5 1700.8C1462.5 1700.8 1467.5 1689.5 1467.5 1689.5C1467.5 1689.5 1478.8 1688.2 1478.8 1688.2C1478.8 1688.2 1478.2 1682.9 1477.5 1682.0C1476.3 1680.4 1468.9 1678.4 1467.5 1677.0C1466.1 1675.6 1463.3 1668.9 1462.5 1667.0C1462.0 1665.7 1460.0 1659.5 1460.0 1659.5" stroke="#868686" stroke-width="2.7" />
</g></g>
<g fill="#f94f4f" stroke="#300808" stroke-width="1">
<circle cx="878.0" cy="419.9" r="11.5"/>
<circle cx="877.6" cy="431.2" r="11.5"/>
<circle cx="871.4" cy="426.4" r="11.5"/>
<circle cx="852.2" cy="440.1" r="11.5"/>
<circle cx="867.3" cy="439.5" r="11.5"/>
<circle cx="865.2" cy="444.3" r="11.5"/>
<circle cx="858.4" cy="444.9" r="11.5"/>
<circle cx="872.1" cy="448.4" r="11.5"/>
<circle cx="871.8" cy="464.9" r="11.5"/>
<circle cx="846.7" cy="471.0" r="11.5"/>
<circle cx="858.4" cy="469.0" r="11.5"/>
<circle cx="852.2" cy="471.7" r="11.5"/>
<circle cx="719.3" cy="882.7" r="11.5"/>
<circle cx="702.1" cy="882.7" r="11.5"/>
<circle cx="691.8" cy="894.3" r="11.5"/>
<circle cx="707.6" cy="898.5" r="11.5"/>
<circle cx="700.7" cy="900.5" r="11.5"/>
<circle cx="693.9" cy="907.4" r="11.5"/>
<circle cx="674.6" cy="921.8" r="11.5"/>
<circle cx="679.5" cy="921.1" r="11.5"/>
<circle cx="680.8" cy="914.3" r="11.5"/>
<circle cx="700.4" cy="914.3" r="11.5"/>
<circle cx="655.8" cy="953.4" r="11.5"/>
<circle cx="655.8" cy="945.9" r="11.5"/>
<circle cx="675.3" cy="940.4" r="11.5"/>
<circle cx="523.2" cy="1072.3" r="11.5"/>
<circle cx="523.2" cy="1078.2" r="11.5"/>
<circle cx="516.1" cy="1081.2" r="11.5"/>
<circle cx="516.5" cy="1086.0" r="11.5"/>
<circle cx="516.5" cy="1091.0" r="11.5"/>
<circle cx="516.5" cy="1096.0" r="11.5"/>
<circle cx="529.5" cy="1098.3" r="11.5"/>
<circle cx="522.8" cy="1085.7" r="11.5"/>
<circle cx="510.1" cy="1106.5" r="11.5"/>
<circle cx="516.5" cy="1105.0" r="11.5"/>
<circle cx="554.0" cy="1117.3" r="11.5"/>
<circle cx="504.9" cy="1122.9" r="11.5"/>
<circle cx="517.6" cy="1128.0" r="11.5"/>
<circle cx="509.4" cy="1124.3" r="11.5"/>
<circle cx="517.6" cy="1134.0" r="11.5"/>
<circle cx="509.4" cy="1137.0" r="11.5"/>
<circle cx="523.2" cy="1154.8" r="11.5"/>
<circle cx="339.4" cy="1338.8" r="11.5"/>
<circle cx="352.0" cy="1322.0" r="11.5"/>
<circle cx="345.0" cy="1313.1" r="11.5"/>
<circle cx="358.1" cy="1306.9" r="11.5"/>
<circle cx="270.0" cy="1611.2" r="11.5"/>
</g>
<g fill="#0505e8" stroke="#000040" stroke-width="1">
<circle cx="1453.0" cy="419.9" r="11.5"/>
<circle cx="1452.6" cy="431.2" r="11.5"/>
<circle cx="1446.4" cy="426.4" r="11.5"/>
<circle cx="1427.2" cy="440.1" r="11.5"/>
<circle cx="1442.3" cy="439.5" r="11.5"/>
<circle cx="1440.2" cy="444.3" r="11.5"/>
<circle cx="1433.4" cy="444.9" r="11.5"/>
<circle cx="1447.1" cy="448.4" r="11.5"/>
<circle cx="1421.7" cy="471.0" r="11.5"/>
<circle cx="1433.4" cy="469.0" r="11.5"/>
<circle cx="1427.2" cy="471.7" r="11.5"/>
<circle cx="1281.8" cy="883.0" r="11.5"/>
<circle cx="1231.2" cy="952.5" r="11.5"/>
<circle cx="1231.2" cy="946.2" r="11.5"/>
<circle cx="1092.6" cy="1079.7" r="11.5"/>
<circle cx="1098.5" cy="1079.0" r="11.5"/>
<circle cx="1092.6" cy="1091.6" r="11.5"/>
<circle cx="1099.3" cy="1091.6" r="11.5"/>
<circle cx="1086.6" cy="1105.0" r="11.5"/>
<circle cx="1092.6" cy="1106.5" r="11.5"/>
<circle cx="1086.6" cy="1116.9" r="11.5"/>
<circle cx="1082.2" cy="1124.3" r="11.5"/>
<circle cx="1085.9" cy="1137.0" r="11.5"/>
<circle cx="920.0" cy="1332.5" r="11.5"/>
<circle cx="838.8" cy="1622.0" r="11.5"/>
<circle cx="842.5" cy="1617.0" r="11.5"/>
<circle cx="844.5" cy="1610.8" r="11.5"/>
<circle cx="844.5" cy="1604.5" r="11.5"/>
</g>
<g fill="#0ca20c" stroke="#062a06" stroke-width="1">
<circle cx="2027.5" cy="430.0" r="11.5"/>
<circle cx="2021.2" cy="437.5" r="11.5"/>
<circle cx="2021.2" cy="450.0" r="11.5"/>
<circle cx="1831.2" cy="918.0" r="11.5"/>
<circle cx="1805.8" cy="930.5" r="11.5"/>
<circle cx="1799.5" cy="949.2" r="11.5"/>
</g>
<g class="ln" opacity="0.5">
<polyline points="1016.0,58.8 1022.0,58.8" stroke="#868686" stroke-width="2.6" stroke-linecap="butt"/>
<polyline points="952.5,154.5 978.8,154.5" stroke="#868686" stroke-width="2.6" stroke-linecap="butt"/>
<polyline points="925.0,249.2 961.0,249.2" stroke="#868686" stroke-width="2.6" stroke-linecap="butt"/>
<polyline points="950.0,344.5 973.8,344.5" stroke="#868686" stroke-width="2.6" stroke-linecap="butt"/>
<polyline points="815.0,534.2 872.5,534.2" stroke="#868686" stroke-width="2.6" stroke-linecap="butt"/>
<polyline points="782.5,630.0 851.0,630.0" stroke="#868686" stroke-width="2.6" stroke-linecap="butt"/>
<polyline points="770.0,786.8 822.5,786.8" stroke="#868686" stroke-width="2.6" stroke-linecap="butt"/>
<polyline points="628.8,947.5 755.0,947.5" stroke="#868686" stroke-width="2.6" stroke-linecap="butt"/>
<polyline points="493.8,1073.2 656.0,1073.2" stroke="#868686" stroke-width="2.6" stroke-linecap="butt"/>
<polyline points="450.0,1168.2 611.0,1168.2" stroke="#868686" stroke-width="2.6" stroke-linecap="butt"/>
<polyline points="347.5,1263.0 555.0,1263.0" stroke="#868686" stroke-width="2.6" stroke-linecap="butt"/>
<polyline points="313.2,1326.2 536.0,1326.2" stroke="#868686" stroke-width="2.6" stroke-linecap="butt"/>
<polyline points="272.5,1389.2 536.0,1389.2" stroke="#868686" stroke-width="2.6" stroke-linecap="butt"/>
<polyline points="277.5,1484.2 313.2,1484.2" stroke="#868686" stroke-width="2.6" stroke-linecap="butt"/>
<polyline points="313.2,1516.2 425.0,1516.2" stroke="#868686" stroke-width="2.6" stroke-linecap="butt"/>
<polyline points="313.2,1579.5 384.0,1579.5" stroke="#868686" stroke-width="2.6" stroke-linecap="butt"/>
<polyline points="313.2,1605.8 382.5,1605.8" stroke="#868686" stroke-width="2.6" stroke-linecap="butt"/>
<polyline points="206.2,1706.2 257.5,1706.2" stroke="#868686" stroke-width="2.6" stroke-linecap="butt"/>
<polyline points="183.8,1801.2 203.0,1801.2" stroke="#868686" stroke-width="2.6" stroke-linecap="butt"/>
<polyline points="181.2,1896.2 210.0,1896.2" stroke="#868686" stroke-width="2.6" stroke-linecap="butt"/>
<polyline points="313.2,1294.5 313.2,1567.0" stroke="#868686" stroke-width="2.6" stroke-linecap="butt"/>
<polyline points="313.2,1358.0 295.0,1358.0 272.5,1388.8" stroke="#868686" stroke-width="2.6" stroke-linecap="butt"/>
<polyline points="1591.7,58.8 1597.7,58.8" stroke="#868686" stroke-width="2.6" stroke-linecap="butt"/>
<polyline points="1528.2,154.5 1554.5,154.5" stroke="#868686" stroke-width="2.6" stroke-linecap="butt"/>
<polyline points="1500.7,249.2 1536.7,249.2" stroke="#868686" stroke-width="2.6" stroke-linecap="butt"/>
<polyline points="1525.7,344.5 1549.5,344.5" stroke="#868686" stroke-width="2.6" stroke-linecap="butt"/>
<polyline points="1390.7,534.2 1448.2,534.2" stroke="#868686" stroke-width="2.6" stroke-linecap="butt"/>
<polyline points="1358.2,630.0 1426.7,630.0" stroke="#868686" stroke-width="2.6" stroke-linecap="butt"/>
<polyline points="1345.7,786.8 1398.2,786.8" stroke="#868686" stroke-width="2.6" stroke-linecap="butt"/>
<polyline points="1204.5,947.5 1330.7,947.5" stroke="#868686" stroke-width="2.6" stroke-linecap="butt"/>
<polyline points="1069.5,1073.2 1231.7,1073.2" stroke="#868686" stroke-width="2.6" stroke-linecap="butt"/>
<polyline points="1025.7,1168.2 1186.7,1168.2" stroke="#868686" stroke-width="2.6" stroke-linecap="butt"/>
<polyline points="923.2,1263.0 1130.7,1263.0" stroke="#868686" stroke-width="2.6" stroke-linecap="butt"/>
<polyline points="889.0,1326.2 1111.7,1326.2" stroke="#868686" stroke-width="2.6" stroke-linecap="butt"/>
<polyline points="848.2,1389.2 1111.7,1389.2" stroke="#868686" stroke-width="2.6" stroke-linecap="butt"/>
<polyline points="853.2,1484.2 889.0,1484.2" stroke="#868686" stroke-width="2.6" stroke-linecap="butt"/>
<polyline points="889.0,1516.2 1000.7,1516.2" stroke="#868686" stroke-width="2.6" stroke-linecap="butt"/>
<polyline points="889.0,1579.5 959.7,1579.5" stroke="#868686" stroke-width="2.6" stroke-linecap="butt"/>
<polyline points="889.0,1605.8 958.2,1605.8" stroke="#868686" stroke-width="2.6" stroke-linecap="butt"/>
<polyline points="782.0,1706.2 833.2,1706.2" stroke="#868686" stroke-width="2.6" stroke-linecap="butt"/>
<polyline points="759.5,1801.2 778.7,1801.2" stroke="#868686" stroke-width="2.6" stroke-linecap="butt"/>
<polyline points="757.0,1896.2 785.7,1896.2" stroke="#868686" stroke-width="2.6" stroke-linecap="butt"/>
<polyline points="889.0,1294.5 889.0,1567.0" stroke="#868686" stroke-width="2.6" stroke-linecap="butt"/>
<polyline points="889.0,1358.0 870.7,1358.0 848.2,1388.8" stroke="#868686" stroke-width="2.6" stroke-linecap="butt"/>
<polyline points="2172.0,55.8 2178.0,55.8" stroke="#868686" stroke-width="2.6" stroke-linecap="butt"/>
<polyline points="2108.5,151.5 2134.8,151.5" stroke="#868686" stroke-width="2.6" stroke-linecap="butt"/>
<polyline points="2081.0,246.2 2117.0,246.2" stroke="#868686" stroke-width="2.6" stroke-linecap="butt"/>
<polyline points="2106.0,341.5 2129.8,341.5" stroke="#868686" stroke-width="2.6" stroke-linecap="butt"/>
<polyline points="1971.0,531.2 2028.5,531.2" stroke="#868686" stroke-width="2.6" stroke-linecap="butt"/>
<polyline points="1938.5,627.0 2007.0,627.0" stroke="#868686" stroke-width="2.6" stroke-linecap="butt"/>
<polyline points="1926.0,783.8 1978.5,783.8" stroke="#868686" stroke-width="2.6" stroke-linecap="butt"/>
<polyline points="1784.8,944.5 1911.0,944.5" stroke="#868686" stroke-width="2.6" stroke-linecap="butt"/>
<polyline points="1649.8,1070.2 1812.0,1070.2" stroke="#868686" stroke-width="2.6" stroke-linecap="butt"/>
<polyline points="1606.0,1165.2 1767.0,1165.2" stroke="#868686" stroke-width="2.6" stroke-linecap="butt"/>
<polyline points="1503.5,1260.0 1711.0,1260.0" stroke="#868686" stroke-width="2.6" stroke-linecap="butt"/>
<polyline points="1469.2,1323.2 1692.0,1323.2" stroke="#868686" stroke-width="2.6" stroke-linecap="butt"/>
<polyline points="1428.5,1386.2 1692.0,1386.2" stroke="#868686" stroke-width="2.6" stroke-linecap="butt"/>
<polyline points="1433.5,1481.2 1469.2,1481.2" stroke="#868686" stroke-width="2.6" stroke-linecap="butt"/>
<polyline points="1469.2,1513.2 1581.0,1513.2" stroke="#868686" stroke-width="2.6" stroke-linecap="butt"/>
<polyline points="1469.2,1576.5 1540.0,1576.5" stroke="#868686" stroke-width="2.6" stroke-linecap="butt"/>
<polyline points="1469.2,1602.8 1538.5,1602.8" stroke="#868686" stroke-width="2.6" stroke-linecap="butt"/>
<polyline points="1362.2,1703.2 1413.5,1703.2" stroke="#868686" stroke-width="2.6" stroke-linecap="butt"/>
<polyline points="1339.8,1798.2 1359.0,1798.2" stroke="#868686" stroke-width="2.6" stroke-linecap="butt"/>
<polyline points="1337.2,1893.2 1366.0,1893.2" stroke="#868686" stroke-width="2.6" stroke-linecap="butt"/>
<polyline points="1469.2,1291.5 1469.2,1564.0" stroke="#868686" stroke-width="2.6" stroke-linecap="butt"/>
<polyline points="1469.2,1355.0 1451.0,1355.0 1428.5,1385.8" stroke="#868686" stroke-width="2.6" stroke-linecap="butt"/>
</g>
<text class="lab" x="1029.2" y="26.2" textLength="132.1" lengthAdjust="spacing">QUINTERO</text>
<text class="lab" x="917.5" y="123.8" textLength="156.8" lengthAdjust="spacing">VALPARAÍSO</text>
<text class="lab" x="868.7" y="216.2" textLength="145.1" lengthAdjust="spacing">PTA. GALLO</text>
<text class="lab" x="865.7" y="302.0" textLength="158.8" lengthAdjust="spacing">ALGARROBO</text>
<text class="lab" x="831.7" y="442.0" textLength="132.6" lengthAdjust="spacing">PTA. TORO</text>
<text class="lab" x="733.7" y="590.5" textLength="157.6" lengthAdjust="spacing">TOPOCALMA</text>
<text class="lab" x="746.2" y="712.5" textLength="137.1" lengthAdjust="spacing">PICHILEMU</text>
<text class="lab" x="690.7" y="882.0" textLength="73.6" lengthAdjust="spacing">ILOCA</text>
<text class="lab" x="528.2" y="1025.0" textLength="188.6" lengthAdjust="spacing">CONSTITUCIÓN</text>
<text class="lab" x="471.2" y="1128.0" textLength="138.1" lengthAdjust="spacing">CARRANZA</text>
<text class="lab" x="458.7" y="1223.8" textLength="108.8" lengthAdjust="spacing">CHANCO</text>
<text class="lab" x="371.2" y="1302.5" textLength="126.3" lengthAdjust="spacing">NUGURUE</text>
<text class="lab" x="202.4" y="1341.2" textLength="192.6" lengthAdjust="spacing">W. LOS MAQUIS</text>
<text class="lab" x="423.7" y="1351.2" textLength="96.3" lengthAdjust="spacing">ACHIRA</text>
<text class="lab" x="231.2" y="1383.2" textLength="132.1" lengthAdjust="spacing">W. ACHIRA</text>
<text class="lab" x="236.7" y="1440.5" textLength="102.1" lengthAdjust="spacing">W. ITATA</text>
<text class="lab" x="376.2" y="1454.2" textLength="65.6" lengthAdjust="spacing">ITATA</text>
<text class="lab" x="295.7" y="1518.0" textLength="176.8" lengthAdjust="spacing">W. S. VICENTE</text>
<text class="lab" x="291.2" y="1553.0" textLength="140.1" lengthAdjust="spacing">S. VICENTE</text>
<text class="lab" x="256.2" y="1599.5" textLength="183.8" lengthAdjust="spacing">CAÑON NORTE</text>
<text class="lab" x="283.7" y="1632.0" textLength="150.1" lengthAdjust="spacing">CAÑON SUR</text>
<text class="lab" x="139.9" y="1663.2" textLength="216.3" lengthAdjust="spacing">W. IS. STA. MARÍA</text>
<text class="lab" x="160.7" y="1755.0" textLength="103.1" lengthAdjust="spacing">LAVAPIE</text>
<text class="lab" x="168.2" y="1861.5" textLength="65.6" lengthAdjust="spacing">LEBU</text>
<text class="lab" x="1604.5" y="26.2" textLength="132.1" lengthAdjust="spacing">QUINTERO</text>
<text class="lab" x="1492.8" y="123.8" textLength="156.8" lengthAdjust="spacing">VALPARAÍSO</text>
<text class="lab" x="1444.0" y="216.2" textLength="145.1" lengthAdjust="spacing">PTA. GALLO</text>
<text class="lab" x="1441.0" y="302.0" textLength="158.8" lengthAdjust="spacing">ALGARROBO</text>
<text class="lab" x="1407.0" y="442.0" textLength="132.6" lengthAdjust="spacing">PTA. TORO</text>
<text class="lab" x="1309.0" y="590.5" textLength="157.6" lengthAdjust="spacing">TOPOCALMA</text>
<text class="lab" x="1321.5" y="712.5" textLength="137.1" lengthAdjust="spacing">PICHILEMU</text>
<text class="lab" x="1266.0" y="882.0" textLength="73.6" lengthAdjust="spacing">ILOCA</text>
<text class="lab" x="1103.5" y="1025.0" textLength="188.6" lengthAdjust="spacing">CONSTITUCIÓN</text>
<text class="lab" x="1046.5" y="1128.0" textLength="138.1" lengthAdjust="spacing">CARRANZA</text>
<text class="lab" x="1034.0" y="1223.8" textLength="108.8" lengthAdjust="spacing">CHANCO</text>
<text class="lab" x="946.5" y="1302.5" textLength="126.3" lengthAdjust="spacing">NUGURUE</text>
<text class="lab" x="777.8" y="1341.2" textLength="192.6" lengthAdjust="spacing">W. LOS MAQUIS</text>
<text class="lab" x="999.0" y="1351.2" textLength="96.3" lengthAdjust="spacing">ACHIRA</text>
<text class="lab" x="806.5" y="1383.2" textLength="132.1" lengthAdjust="spacing">W. ACHIRA</text>
<text class="lab" x="812.0" y="1440.5" textLength="102.1" lengthAdjust="spacing">W. ITATA</text>
<text class="lab" x="951.5" y="1454.2" textLength="65.6" lengthAdjust="spacing">ITATA</text>
<text class="lab" x="871.0" y="1518.0" textLength="176.8" lengthAdjust="spacing">W. S. VICENTE</text>
<text class="lab" x="866.5" y="1553.0" textLength="140.1" lengthAdjust="spacing">S. VICENTE</text>
<text class="lab" x="831.5" y="1599.5" textLength="183.8" lengthAdjust="spacing">CAÑON NORTE</text>
<text class="lab" x="859.0" y="1632.0" textLength="150.1" lengthAdjust="spacing">CAÑON SUR</text>
<text class="lab" x="715.2" y="1663.2" textLength="216.3" lengthAdjust="spacing">W. IS. STA. MARÍA</text>
<text class="lab" x="736.0" y="1755.0" textLength="103.1" lengthAdjust="spacing">LAVAPIE</text>
<text class="lab" x="743.5" y="1861.5" textLength="65.6" lengthAdjust="spacing">LEBU</text>
<text class="lab" x="2185.7" y="23.8" textLength="131.8" lengthAdjust="spacing">QUINTERO</text>
<text class="lab" x="2073.7" y="120.8" textLength="156.3" lengthAdjust="spacing">VALPARAÍSO</text>
<text class="lab" x="2025.0" y="213.8" textLength="145.1" lengthAdjust="spacing">PTA. GALLO</text>
<text class="lab" x="2021.7" y="299.5" textLength="159.6" lengthAdjust="spacing">ALGARROBO</text>
<text class="lab" x="1988.2" y="438.8" textLength="133.1" lengthAdjust="spacing">PTA. TORO</text>
<text class="lab" x="1890.0" y="573.0" textLength="156.3" lengthAdjust="spacing">TOPOCALMA</text>
<text class="lab" x="1851.7" y="695.0" textLength="137.1" lengthAdjust="spacing">PICHILEMU</text>
<text class="lab" x="1846.2" y="879.5" textLength="74.6" lengthAdjust="spacing">ILOCA</text>
<text class="lab" x="1684.5" y="1022.0" textLength="189.3" lengthAdjust="spacing">CONSTITUCIÓN</text>
<text class="lab" x="1627.5" y="1125.5" textLength="137.6" lengthAdjust="spacing">CARRANZA</text>
<text class="lab" x="1615.7" y="1220.0" textLength="108.1" lengthAdjust="spacing">CHANCO</text>
<text class="lab" x="1528.2" y="1299.5" textLength="125.1" lengthAdjust="spacing">NUGURUE</text>
<text class="lab" x="1360.0" y="1337.5" textLength="191.3" lengthAdjust="spacing">W. LOS MAQUIS</text>
<text class="lab" x="1580.7" y="1348.8" textLength="95.1" lengthAdjust="spacing">ACHIRA</text>
<text class="lab" x="1388.2" y="1380.0" textLength="131.1" lengthAdjust="spacing">W. ACHIRA</text>
<text class="lab" x="1393.7" y="1437.5" textLength="102.1" lengthAdjust="spacing">W. ITATA</text>
<text class="lab" x="1532.5" y="1450.8" textLength="65.1" lengthAdjust="spacing">ITATA</text>
<text class="lab" x="1452.5" y="1514.5" textLength="175.8" lengthAdjust="spacing">W. S. VICENTE</text>
<text class="lab" x="1447.5" y="1550.0" textLength="140.1" lengthAdjust="spacing">S. VICENTE</text>
<text class="lab" x="1344.5" y="1582.5" textLength="183.8" lengthAdjust="spacing">CAÑON NORTE</text>
<text class="lab" x="1440.0" y="1628.2" textLength="150.8" lengthAdjust="spacing">CAÑON SUR</text>
<text class="lab" x="1296.7" y="1660.0" textLength="215.8" lengthAdjust="spacing">W. IS. STA. MARÍA</text>
<text class="lab" x="1318.0" y="1752.0" textLength="101.3" lengthAdjust="spacing">LAVAPIE</text>
<text class="lab" x="1324.2" y="1858.2" textLength="66.6" lengthAdjust="spacing">LEBU</text>
<text class="plc" x="2168.7" y="253.8" textLength="107.6" lengthAdjust="spacingAndGlyphs">Pta. Gallo</text>
<text class="plc" x="2128.7" y="453.8" textLength="103.8" lengthAdjust="spacingAndGlyphs">Pta. Toro</text>
<text class="plc" x="2089.9" y="526.2" textLength="171.3" lengthAdjust="spacingAndGlyphs">Pta. De Pájaros</text>
<text class="plc" x="2070.7" y="558.8" textLength="153.1" lengthAdjust="spacingAndGlyphs">Pta. Barrando</text>
<text class="plc" x="2045.7" y="590.0" textLength="173.1" lengthAdjust="spacingAndGlyphs">Pta. Topocalma</text>
<text class="plc" x="2038.7" y="684.5" textLength="158.1" lengthAdjust="spacingAndGlyphs">Pta. Pichilemu</text>
<text class="plc" x="2032.5" y="741.2" textLength="120.8" lengthAdjust="spacingAndGlyphs">Pta. Sirena</text>
<text class="plc" x="1995.0" y="849.5" textLength="149.6" lengthAdjust="spacingAndGlyphs">Pta. Cardonal</text>
<text class="plc" x="1975.7" y="912.5" textLength="142.6" lengthAdjust="spacingAndGlyphs">Pta. Rancura</text>
<text class="plc" x="1855.7" y="1103.0" textLength="123.6" lengthAdjust="spacingAndGlyphs">Pta. Valdés</text>
<text class="plc" x="1811.2" y="1148.2" textLength="138.8" lengthAdjust="spacingAndGlyphs">Pta. La Vieja</text>
<text class="plc" x="1810.7" y="1242.5" textLength="141.6" lengthAdjust="spacingAndGlyphs">Pta. Amarilla</text>
<text class="plc" x="1753.7" y="1286.2" textLength="147.6" lengthAdjust="spacingAndGlyphs">Pta. Nugurue</text>
<text class="plc" x="1747.5" y="1331.2" textLength="175.1" lengthAdjust="spacingAndGlyphs">Pta. Los Maquis</text>
<text class="plc" x="1742.0" y="1368.8" textLength="120.1" lengthAdjust="spacingAndGlyphs">Pta. Achira</text>
<text class="plc" x="1742.0" y="1413.8" textLength="228.6" lengthAdjust="spacingAndGlyphs">Pta. Monte del Zorro</text>
<text class="plc" x="1602.5" y="1585.0" textLength="141.3" lengthAdjust="spacingAndGlyphs">Pta. Gualpén</text>
<text class="plc" x="1608.7" y="1712.0" textLength="97.6" lengthAdjust="spacingAndGlyphs">Pta. Lota</text>
<text class="plc" x="1450.0" y="1737.0" textLength="135.8" lengthAdjust="spacingAndGlyphs">Pta. Lavapié</text>
<text class="city" x="1888.7" y="1048.2" textLength="220.6" lengthAdjust="spacing" font-size="27.5">CONSTITUCION</text>
<text class="city" x="1683.7" y="1510.0" textLength="98.1" lengthAdjust="spacing" font-size="28">Dichato</text>
<text class="city" x="1621.2" y="1550.0" textLength="192.6" lengthAdjust="spacing" font-size="27.5">TALCAHUANO</text>
<text class="ttl" x="488.0" y="105.5" textLength="45.7" lengthAdjust="spacingAndGlyphs">L.</text>
<text class="ttl" x="546.5" y="105.5" textLength="224.6" lengthAdjust="spacingAndGlyphs">Colorado</text>
<text class="ttl" x="1203.0" y="105.5" textLength="45.7" lengthAdjust="spacingAndGlyphs">L.</text>
<text class="ttl" x="1263.0" y="105.5" textLength="208.0" lengthAdjust="spacingAndGlyphs">Amarillo</text>
<text class="ttl" x="1811.0" y="105.5" textLength="225.6" lengthAdjust="spacingAndGlyphs">Camarón</text>
<rect x="0" y="0" width="4" height="1937"/><rect x="0" y="0" width="2362" height="3.75"/><rect x="2357" y="0" width="5" height="1937"/><rect x="0" y="1936" width="2362" height="1"/>
<text class="tah" font-size="44" x="2394.7" y="168.0" textLength="61.5" lengthAdjust="spacingAndGlyphs">-33</text>
<text class="tah" font-size="44" x="2394.7" y="547.9" textLength="61.5" lengthAdjust="spacingAndGlyphs">-34</text>
<text class="tah" font-size="44" x="2394.7" y="927.7" textLength="61.5" lengthAdjust="spacingAndGlyphs">-35</text>
<text class="tah" font-size="44" x="2394.7" y="1307.6" textLength="61.5" lengthAdjust="spacingAndGlyphs">-36</text>
<text class="tah" font-size="44" x="2394.7" y="1687.4" textLength="61.5" lengthAdjust="spacingAndGlyphs">-37</text>
<text class="tah" font-size="43" transform="translate(2483.6,1181.9) rotate(-90)" textLength="215.6" lengthAdjust="spacingAndGlyphs">Latitud (°S)</text>
<rect x="1805.1" y="1474.4" width="543.2" height="451" fill="#fff" stroke="#000" stroke-width="3"/>
<rect x="1805" y="1615" width="543" height="2.2" fill="#000"/>
<text class="tah" font-size="48.5" x="1893.1" y="1530.8" textLength="365" lengthAdjust="spacingAndGlyphs">Lances de pesca</text>
<text class="tah" font-size="48.5" x="1937.4" y="1591.3" textLength="277.8" lengthAdjust="spacingAndGlyphs">Agosto 2024</text>
<rect x="1849" y="1689.3" width="39.7" height="4" fill="#f5a61d"/>
<text class="tah" font-size="37" x="1896.9" y="1702.4" textLength="418.5" lengthAdjust="spacingAndGlyphs">Límite Reserva Artesanal</text>
<text class="tah" font-size="37" x="1896.9" y="1764.7" textLength="337.7" lengthAdjust="spacingAndGlyphs">Langostino colorado</text>
<text class="tah" font-size="37" x="1896.9" y="1826.9" textLength="326.9" lengthAdjust="spacingAndGlyphs">Langostino amarillo</text>
<text class="tah" font-size="37" x="1898" y="1889.2" textLength="262.3" lengthAdjust="spacingAndGlyphs">Camarón nailon</text>
<circle cx="1869.9" cy="1763.7" r="11.9" fill="#f94f4f" stroke="#300808" stroke-width="1"/>
<circle cx="1869.9" cy="1825.9" r="11.9" fill="#0808ee" stroke="#000040" stroke-width="1"/>
<circle cx="1869.9" cy="1888.5" r="11.9" fill="#0ca20c" stroke="#062a06" stroke-width="1"/>
</svg></body></html>
